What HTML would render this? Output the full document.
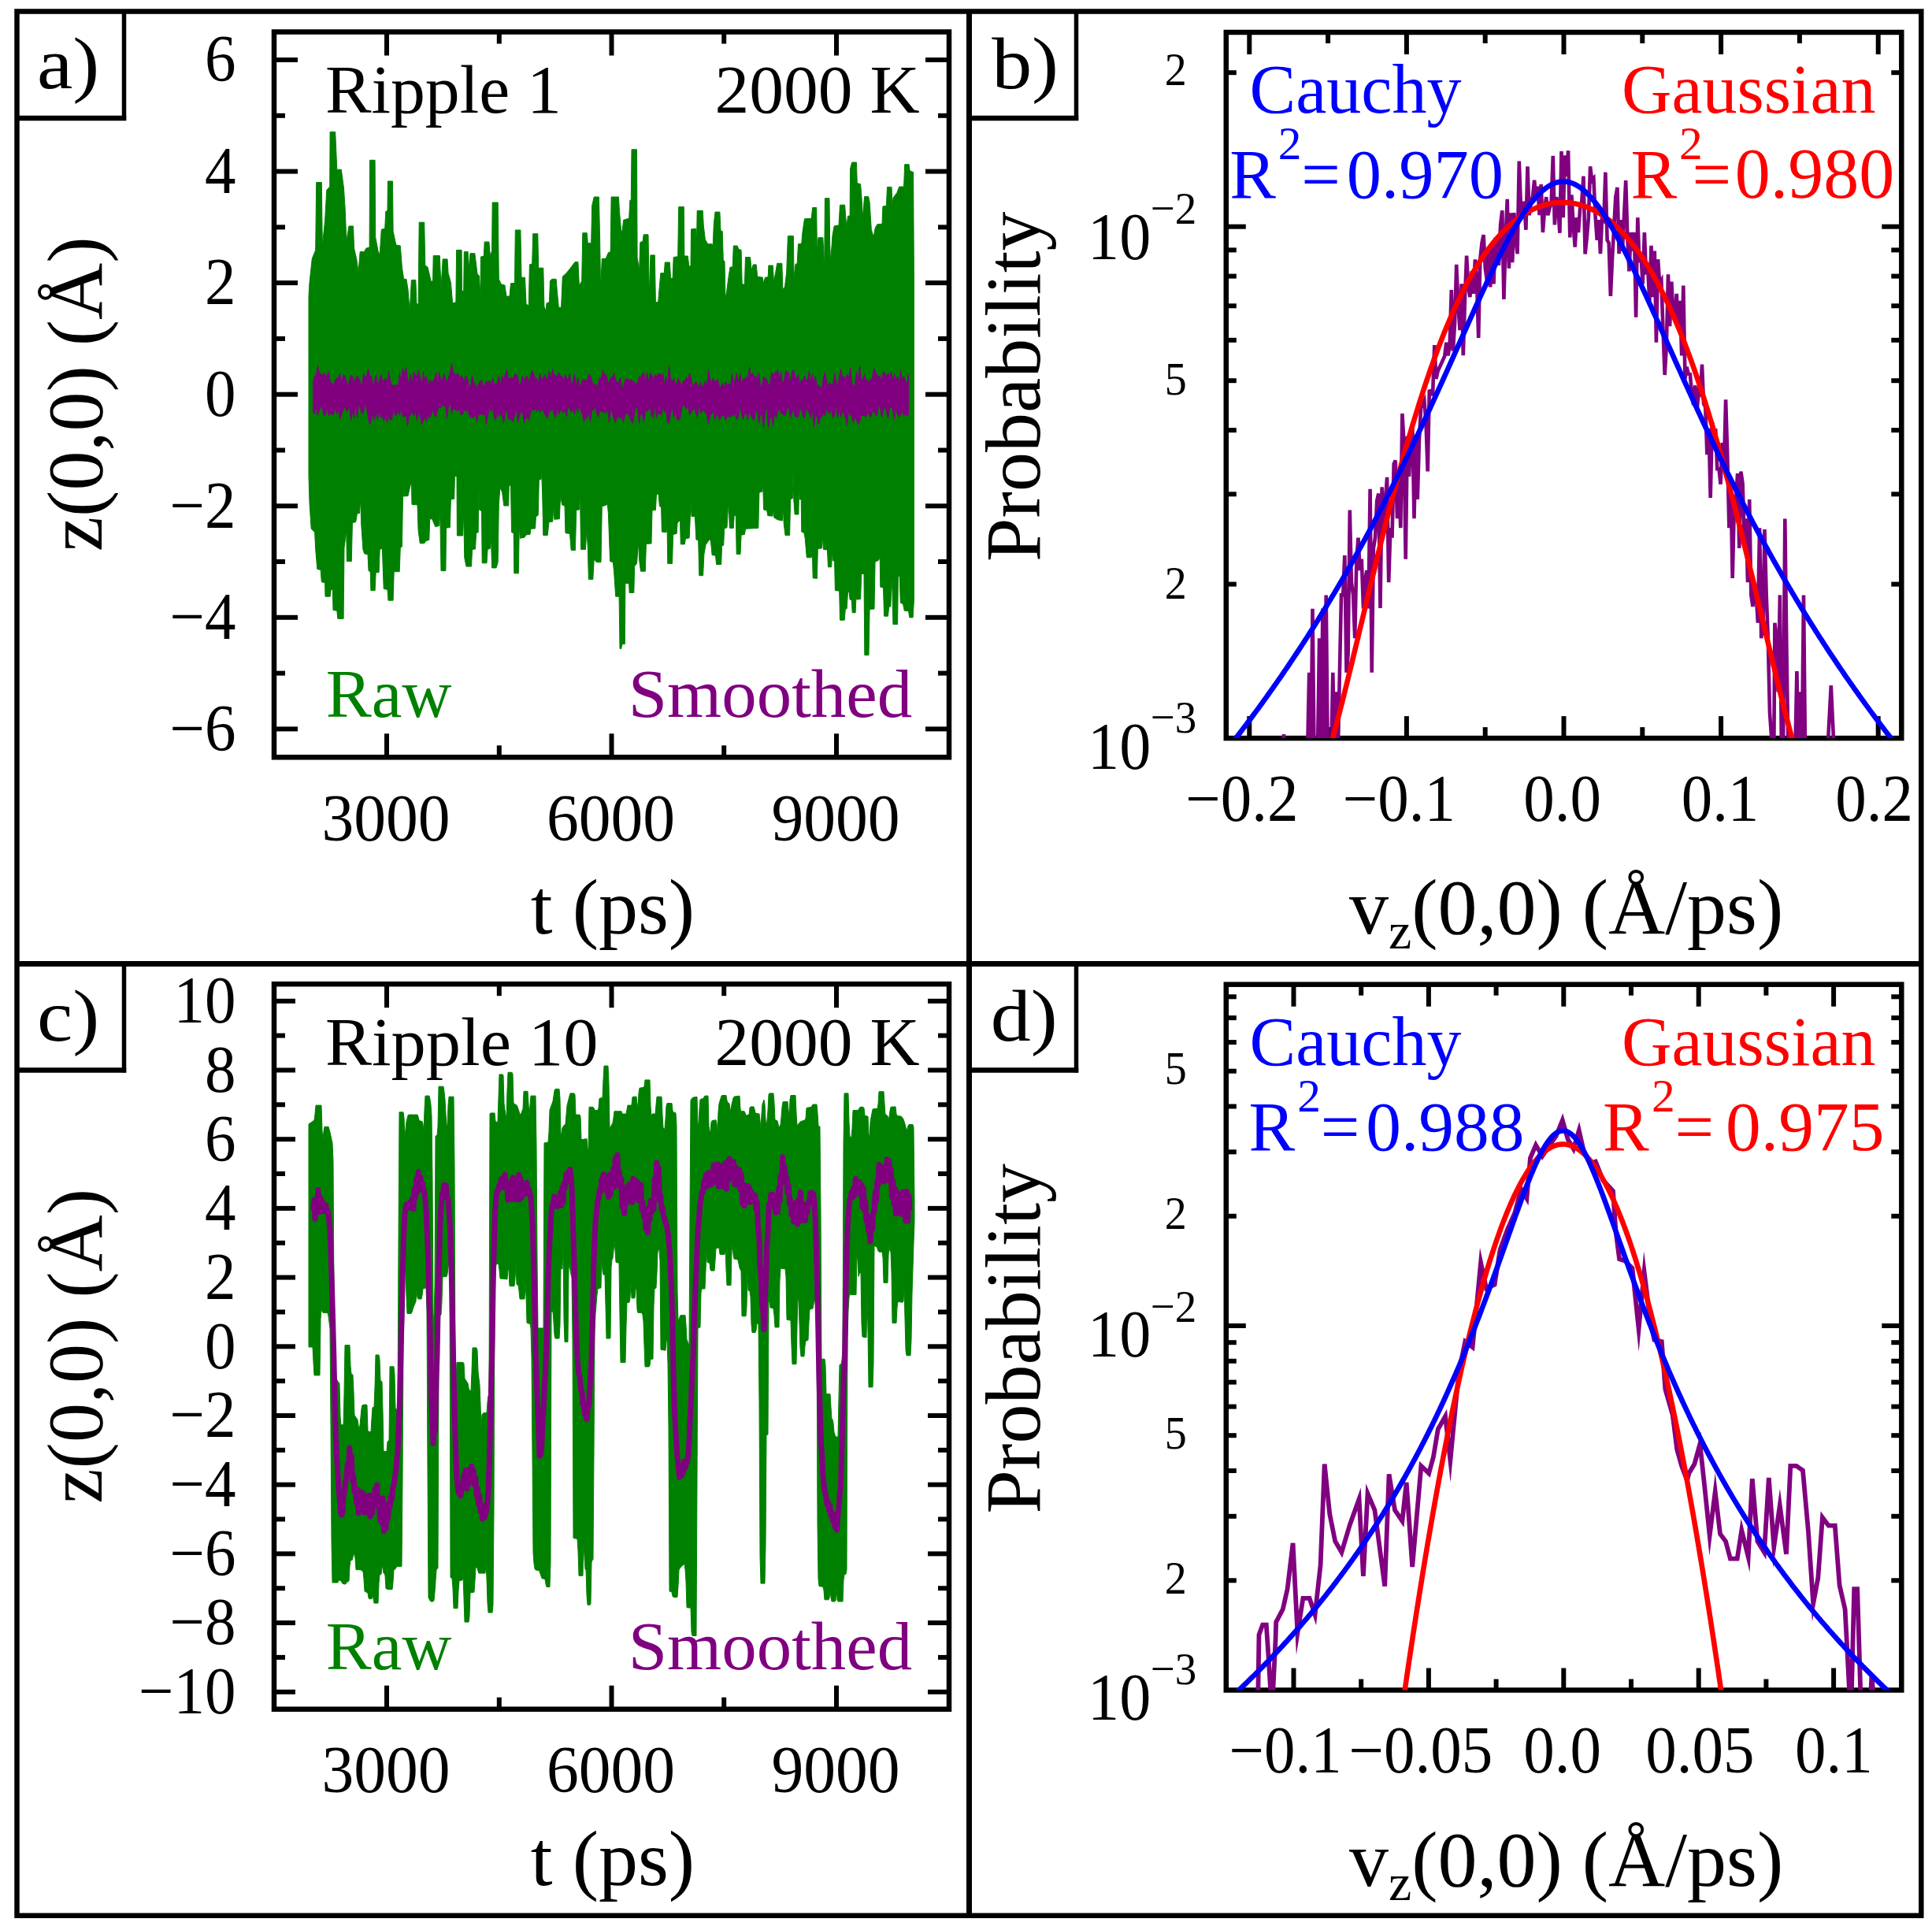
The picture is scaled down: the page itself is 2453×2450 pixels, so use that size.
<!DOCTYPE html><html><head><meta charset="utf-8"><title>Ripple figure</title>
<style>html,body{margin:0;padding:0;background:#fff}svg{display:block}text{font-family:"Liberation Serif",serif}</style></head><body>
<svg width="2453" height="2450" viewBox="0 0 2453 2450">
<rect width="2453" height="2450" fill="#fff"/>
<defs>
<clipPath id="ca"><rect x="348" y="40.5" width="857" height="920.8"/></clipPath>
<clipPath id="cb"><rect x="1556.8" y="41" width="857.5000000000002" height="896.1"/></clipPath>
<clipPath id="cc"><rect x="348" y="1249.2" width="857" height="920.4999999999998"/></clipPath>
<clipPath id="cd"><rect x="1556.8" y="1249.7" width="857.5000000000002" height="895.8"/></clipPath>
</defs>
<rect x="21.5" y="14.5" width="2417.8" height="2417.2" fill="none" stroke="#000" stroke-width="6.5"/>
<line x1="1230.5" y1="14.5" x2="1230.5" y2="2431.7" stroke="#000" stroke-width="7"/>
<line x1="21.5" y1="1223.5" x2="2439.3" y2="1223.5" stroke="#000" stroke-width="7"/>
<line x1="157.5" y1="14.5" x2="157.5" y2="153.0" stroke="#000" stroke-width="5.5"/>
<line x1="21.5" y1="150.0" x2="160.2" y2="150.0" stroke="#000" stroke-width="6.5"/>
<line x1="1366.5" y1="14.5" x2="1366.5" y2="153.0" stroke="#000" stroke-width="5.5"/>
<line x1="1230.5" y1="150.0" x2="1369.2" y2="150.0" stroke="#000" stroke-width="6.5"/>
<line x1="157.5" y1="1223.5" x2="157.5" y2="1361.5" stroke="#000" stroke-width="5.5"/>
<line x1="21.5" y1="1358.5" x2="160.2" y2="1358.5" stroke="#000" stroke-width="6.5"/>
<line x1="1366.5" y1="1223.5" x2="1366.5" y2="1361.5" stroke="#000" stroke-width="5.5"/>
<line x1="1230.5" y1="1358.5" x2="1369.2" y2="1358.5" stroke="#000" stroke-width="6.5"/>
<line x1="348.0" y1="925.4" x2="378.0" y2="925.4" stroke="#000" stroke-width="6"/>
<line x1="1175.0" y1="925.4" x2="1205.0" y2="925.4" stroke="#000" stroke-width="6"/>
<line x1="348.0" y1="783.8" x2="378.0" y2="783.8" stroke="#000" stroke-width="6"/>
<line x1="1175.0" y1="783.8" x2="1205.0" y2="783.8" stroke="#000" stroke-width="6"/>
<line x1="348.0" y1="642.3" x2="378.0" y2="642.3" stroke="#000" stroke-width="6"/>
<line x1="1175.0" y1="642.3" x2="1205.0" y2="642.3" stroke="#000" stroke-width="6"/>
<line x1="348.0" y1="500.7" x2="378.0" y2="500.7" stroke="#000" stroke-width="6"/>
<line x1="1175.0" y1="500.7" x2="1205.0" y2="500.7" stroke="#000" stroke-width="6"/>
<line x1="348.0" y1="359.1" x2="378.0" y2="359.1" stroke="#000" stroke-width="6"/>
<line x1="1175.0" y1="359.1" x2="1205.0" y2="359.1" stroke="#000" stroke-width="6"/>
<line x1="348.0" y1="217.6" x2="378.0" y2="217.6" stroke="#000" stroke-width="6"/>
<line x1="1175.0" y1="217.6" x2="1205.0" y2="217.6" stroke="#000" stroke-width="6"/>
<line x1="348.0" y1="76.0" x2="378.0" y2="76.0" stroke="#000" stroke-width="6"/>
<line x1="1175.0" y1="76.0" x2="1205.0" y2="76.0" stroke="#000" stroke-width="6"/>
<line x1="348.0" y1="854.6" x2="362.0" y2="854.6" stroke="#000" stroke-width="6"/>
<line x1="1191.0" y1="854.6" x2="1205.0" y2="854.6" stroke="#000" stroke-width="6"/>
<line x1="348.0" y1="713.0" x2="362.0" y2="713.0" stroke="#000" stroke-width="6"/>
<line x1="1191.0" y1="713.0" x2="1205.0" y2="713.0" stroke="#000" stroke-width="6"/>
<line x1="348.0" y1="571.5" x2="362.0" y2="571.5" stroke="#000" stroke-width="6"/>
<line x1="1191.0" y1="571.5" x2="1205.0" y2="571.5" stroke="#000" stroke-width="6"/>
<line x1="348.0" y1="429.9" x2="362.0" y2="429.9" stroke="#000" stroke-width="6"/>
<line x1="1191.0" y1="429.9" x2="1205.0" y2="429.9" stroke="#000" stroke-width="6"/>
<line x1="348.0" y1="288.4" x2="362.0" y2="288.4" stroke="#000" stroke-width="6"/>
<line x1="1191.0" y1="288.4" x2="1205.0" y2="288.4" stroke="#000" stroke-width="6"/>
<line x1="348.0" y1="146.8" x2="362.0" y2="146.8" stroke="#000" stroke-width="6"/>
<line x1="1191.0" y1="146.8" x2="1205.0" y2="146.8" stroke="#000" stroke-width="6"/>
<line x1="491.0" y1="40.5" x2="491.0" y2="70.5" stroke="#000" stroke-width="6"/>
<line x1="491.0" y1="931.3" x2="491.0" y2="961.3" stroke="#000" stroke-width="6"/>
<line x1="776.5" y1="40.5" x2="776.5" y2="70.5" stroke="#000" stroke-width="6"/>
<line x1="776.5" y1="931.3" x2="776.5" y2="961.3" stroke="#000" stroke-width="6"/>
<line x1="1062.0" y1="40.5" x2="1062.0" y2="70.5" stroke="#000" stroke-width="6"/>
<line x1="1062.0" y1="931.3" x2="1062.0" y2="961.3" stroke="#000" stroke-width="6"/>
<line x1="633.8" y1="40.5" x2="633.8" y2="55.5" stroke="#000" stroke-width="6"/>
<line x1="633.8" y1="946.3" x2="633.8" y2="961.3" stroke="#000" stroke-width="6"/>
<line x1="919.2" y1="40.5" x2="919.2" y2="55.5" stroke="#000" stroke-width="6"/>
<line x1="919.2" y1="946.3" x2="919.2" y2="961.3" stroke="#000" stroke-width="6"/>
<rect x="348.0" y="40.5" width="857.0" height="920.8" fill="none" stroke="#000" stroke-width="6.5"/>
<line x1="348.0" y1="2147.8" x2="375.0" y2="2147.8" stroke="#000" stroke-width="6"/>
<line x1="1178.0" y1="2147.8" x2="1205.0" y2="2147.8" stroke="#000" stroke-width="6"/>
<line x1="348.0" y1="2060.1" x2="375.0" y2="2060.1" stroke="#000" stroke-width="6"/>
<line x1="1178.0" y1="2060.1" x2="1205.0" y2="2060.1" stroke="#000" stroke-width="6"/>
<line x1="348.0" y1="1972.4" x2="375.0" y2="1972.4" stroke="#000" stroke-width="6"/>
<line x1="1178.0" y1="1972.4" x2="1205.0" y2="1972.4" stroke="#000" stroke-width="6"/>
<line x1="348.0" y1="1884.7" x2="375.0" y2="1884.7" stroke="#000" stroke-width="6"/>
<line x1="1178.0" y1="1884.7" x2="1205.0" y2="1884.7" stroke="#000" stroke-width="6"/>
<line x1="348.0" y1="1797.0" x2="375.0" y2="1797.0" stroke="#000" stroke-width="6"/>
<line x1="1178.0" y1="1797.0" x2="1205.0" y2="1797.0" stroke="#000" stroke-width="6"/>
<line x1="348.0" y1="1709.3" x2="375.0" y2="1709.3" stroke="#000" stroke-width="6"/>
<line x1="1178.0" y1="1709.3" x2="1205.0" y2="1709.3" stroke="#000" stroke-width="6"/>
<line x1="348.0" y1="1621.6" x2="375.0" y2="1621.6" stroke="#000" stroke-width="6"/>
<line x1="1178.0" y1="1621.6" x2="1205.0" y2="1621.6" stroke="#000" stroke-width="6"/>
<line x1="348.0" y1="1533.9" x2="375.0" y2="1533.9" stroke="#000" stroke-width="6"/>
<line x1="1178.0" y1="1533.9" x2="1205.0" y2="1533.9" stroke="#000" stroke-width="6"/>
<line x1="348.0" y1="1446.2" x2="375.0" y2="1446.2" stroke="#000" stroke-width="6"/>
<line x1="1178.0" y1="1446.2" x2="1205.0" y2="1446.2" stroke="#000" stroke-width="6"/>
<line x1="348.0" y1="1358.5" x2="375.0" y2="1358.5" stroke="#000" stroke-width="6"/>
<line x1="1178.0" y1="1358.5" x2="1205.0" y2="1358.5" stroke="#000" stroke-width="6"/>
<line x1="348.0" y1="1270.8" x2="375.0" y2="1270.8" stroke="#000" stroke-width="6"/>
<line x1="1178.0" y1="1270.8" x2="1205.0" y2="1270.8" stroke="#000" stroke-width="6"/>
<line x1="348.0" y1="2103.9" x2="362.0" y2="2103.9" stroke="#000" stroke-width="6"/>
<line x1="1191.0" y1="2103.9" x2="1205.0" y2="2103.9" stroke="#000" stroke-width="6"/>
<line x1="348.0" y1="2016.2" x2="362.0" y2="2016.2" stroke="#000" stroke-width="6"/>
<line x1="1191.0" y1="2016.2" x2="1205.0" y2="2016.2" stroke="#000" stroke-width="6"/>
<line x1="348.0" y1="1928.5" x2="362.0" y2="1928.5" stroke="#000" stroke-width="6"/>
<line x1="1191.0" y1="1928.5" x2="1205.0" y2="1928.5" stroke="#000" stroke-width="6"/>
<line x1="348.0" y1="1840.8" x2="362.0" y2="1840.8" stroke="#000" stroke-width="6"/>
<line x1="1191.0" y1="1840.8" x2="1205.0" y2="1840.8" stroke="#000" stroke-width="6"/>
<line x1="348.0" y1="1753.1" x2="362.0" y2="1753.1" stroke="#000" stroke-width="6"/>
<line x1="1191.0" y1="1753.1" x2="1205.0" y2="1753.1" stroke="#000" stroke-width="6"/>
<line x1="348.0" y1="1665.5" x2="362.0" y2="1665.5" stroke="#000" stroke-width="6"/>
<line x1="1191.0" y1="1665.5" x2="1205.0" y2="1665.5" stroke="#000" stroke-width="6"/>
<line x1="348.0" y1="1577.8" x2="362.0" y2="1577.8" stroke="#000" stroke-width="6"/>
<line x1="1191.0" y1="1577.8" x2="1205.0" y2="1577.8" stroke="#000" stroke-width="6"/>
<line x1="348.0" y1="1490.0" x2="362.0" y2="1490.0" stroke="#000" stroke-width="6"/>
<line x1="1191.0" y1="1490.0" x2="1205.0" y2="1490.0" stroke="#000" stroke-width="6"/>
<line x1="348.0" y1="1402.3" x2="362.0" y2="1402.3" stroke="#000" stroke-width="6"/>
<line x1="1191.0" y1="1402.3" x2="1205.0" y2="1402.3" stroke="#000" stroke-width="6"/>
<line x1="348.0" y1="1314.6" x2="362.0" y2="1314.6" stroke="#000" stroke-width="6"/>
<line x1="1191.0" y1="1314.6" x2="1205.0" y2="1314.6" stroke="#000" stroke-width="6"/>
<line x1="491.0" y1="1249.2" x2="491.0" y2="1279.2" stroke="#000" stroke-width="6"/>
<line x1="491.0" y1="2139.7" x2="491.0" y2="2169.7" stroke="#000" stroke-width="6"/>
<line x1="776.5" y1="1249.2" x2="776.5" y2="1279.2" stroke="#000" stroke-width="6"/>
<line x1="776.5" y1="2139.7" x2="776.5" y2="2169.7" stroke="#000" stroke-width="6"/>
<line x1="1062.0" y1="1249.2" x2="1062.0" y2="1279.2" stroke="#000" stroke-width="6"/>
<line x1="1062.0" y1="2139.7" x2="1062.0" y2="2169.7" stroke="#000" stroke-width="6"/>
<line x1="633.8" y1="1249.2" x2="633.8" y2="1264.2" stroke="#000" stroke-width="6"/>
<line x1="633.8" y1="2154.7" x2="633.8" y2="2169.7" stroke="#000" stroke-width="6"/>
<line x1="919.2" y1="1249.2" x2="919.2" y2="1264.2" stroke="#000" stroke-width="6"/>
<line x1="919.2" y1="2154.7" x2="919.2" y2="2169.7" stroke="#000" stroke-width="6"/>
<rect x="348.0" y="1249.2" width="857.0" height="920.5" fill="none" stroke="#000" stroke-width="6.5"/>
<line x1="1556.8" y1="287.7" x2="1581.8" y2="287.7" stroke="#000" stroke-width="6"/>
<line x1="2389.3" y1="287.7" x2="2414.3" y2="287.7" stroke="#000" stroke-width="6"/>
<line x1="1556.8" y1="741.6" x2="1569.8" y2="741.6" stroke="#000" stroke-width="6"/>
<line x1="2401.3" y1="741.6" x2="2414.3" y2="741.6" stroke="#000" stroke-width="6"/>
<line x1="1556.8" y1="627.3" x2="1569.8" y2="627.3" stroke="#000" stroke-width="6"/>
<line x1="2401.3" y1="627.3" x2="2414.3" y2="627.3" stroke="#000" stroke-width="6"/>
<line x1="1556.8" y1="546.1" x2="1569.8" y2="546.1" stroke="#000" stroke-width="6"/>
<line x1="2401.3" y1="546.1" x2="2414.3" y2="546.1" stroke="#000" stroke-width="6"/>
<line x1="1556.8" y1="483.2" x2="1569.8" y2="483.2" stroke="#000" stroke-width="6"/>
<line x1="2401.3" y1="483.2" x2="2414.3" y2="483.2" stroke="#000" stroke-width="6"/>
<line x1="1556.8" y1="431.8" x2="1569.8" y2="431.8" stroke="#000" stroke-width="6"/>
<line x1="2401.3" y1="431.8" x2="2414.3" y2="431.8" stroke="#000" stroke-width="6"/>
<line x1="1556.8" y1="388.3" x2="1569.8" y2="388.3" stroke="#000" stroke-width="6"/>
<line x1="2401.3" y1="388.3" x2="2414.3" y2="388.3" stroke="#000" stroke-width="6"/>
<line x1="1556.8" y1="350.6" x2="1569.8" y2="350.6" stroke="#000" stroke-width="6"/>
<line x1="2401.3" y1="350.6" x2="2414.3" y2="350.6" stroke="#000" stroke-width="6"/>
<line x1="1556.8" y1="317.4" x2="1569.8" y2="317.4" stroke="#000" stroke-width="6"/>
<line x1="2401.3" y1="317.4" x2="2414.3" y2="317.4" stroke="#000" stroke-width="6"/>
<line x1="1556.8" y1="92.2" x2="1569.8" y2="92.2" stroke="#000" stroke-width="6"/>
<line x1="2401.3" y1="92.2" x2="2414.3" y2="92.2" stroke="#000" stroke-width="6"/>
<line x1="1586.3" y1="41.0" x2="1586.3" y2="69.0" stroke="#000" stroke-width="6"/>
<line x1="1586.3" y1="909.1" x2="1586.3" y2="937.1" stroke="#000" stroke-width="6"/>
<line x1="1785.9" y1="41.0" x2="1785.9" y2="69.0" stroke="#000" stroke-width="6"/>
<line x1="1785.9" y1="909.1" x2="1785.9" y2="937.1" stroke="#000" stroke-width="6"/>
<line x1="1985.5" y1="41.0" x2="1985.5" y2="69.0" stroke="#000" stroke-width="6"/>
<line x1="1985.5" y1="909.1" x2="1985.5" y2="937.1" stroke="#000" stroke-width="6"/>
<line x1="2185.1" y1="41.0" x2="2185.1" y2="69.0" stroke="#000" stroke-width="6"/>
<line x1="2185.1" y1="909.1" x2="2185.1" y2="937.1" stroke="#000" stroke-width="6"/>
<line x1="2384.7" y1="41.0" x2="2384.7" y2="69.0" stroke="#000" stroke-width="6"/>
<line x1="2384.7" y1="909.1" x2="2384.7" y2="937.1" stroke="#000" stroke-width="6"/>
<line x1="1686.1" y1="41.0" x2="1686.1" y2="55.0" stroke="#000" stroke-width="6"/>
<line x1="1686.1" y1="923.1" x2="1686.1" y2="937.1" stroke="#000" stroke-width="6"/>
<line x1="1885.7" y1="41.0" x2="1885.7" y2="55.0" stroke="#000" stroke-width="6"/>
<line x1="1885.7" y1="923.1" x2="1885.7" y2="937.1" stroke="#000" stroke-width="6"/>
<line x1="2085.3" y1="41.0" x2="2085.3" y2="55.0" stroke="#000" stroke-width="6"/>
<line x1="2085.3" y1="923.1" x2="2085.3" y2="937.1" stroke="#000" stroke-width="6"/>
<line x1="2284.9" y1="41.0" x2="2284.9" y2="55.0" stroke="#000" stroke-width="6"/>
<line x1="2284.9" y1="923.1" x2="2284.9" y2="937.1" stroke="#000" stroke-width="6"/>
<rect x="1556.8" y="41.0" width="857.5" height="896.1" fill="none" stroke="#000" stroke-width="6.5"/>
<line x1="1556.8" y1="1683.0" x2="1581.8" y2="1683.0" stroke="#000" stroke-width="6"/>
<line x1="2389.3" y1="1683.0" x2="2414.3" y2="1683.0" stroke="#000" stroke-width="6"/>
<line x1="1556.8" y1="2006.3" x2="1569.8" y2="2006.3" stroke="#000" stroke-width="6"/>
<line x1="2401.3" y1="2006.3" x2="2414.3" y2="2006.3" stroke="#000" stroke-width="6"/>
<line x1="1556.8" y1="1924.8" x2="1569.8" y2="1924.8" stroke="#000" stroke-width="6"/>
<line x1="2401.3" y1="1924.8" x2="2414.3" y2="1924.8" stroke="#000" stroke-width="6"/>
<line x1="1556.8" y1="1867.0" x2="1569.8" y2="1867.0" stroke="#000" stroke-width="6"/>
<line x1="2401.3" y1="1867.0" x2="2414.3" y2="1867.0" stroke="#000" stroke-width="6"/>
<line x1="1556.8" y1="1822.2" x2="1569.8" y2="1822.2" stroke="#000" stroke-width="6"/>
<line x1="2401.3" y1="1822.2" x2="2414.3" y2="1822.2" stroke="#000" stroke-width="6"/>
<line x1="1556.8" y1="1785.6" x2="1569.8" y2="1785.6" stroke="#000" stroke-width="6"/>
<line x1="2401.3" y1="1785.6" x2="2414.3" y2="1785.6" stroke="#000" stroke-width="6"/>
<line x1="1556.8" y1="1754.6" x2="1569.8" y2="1754.6" stroke="#000" stroke-width="6"/>
<line x1="2401.3" y1="1754.6" x2="2414.3" y2="1754.6" stroke="#000" stroke-width="6"/>
<line x1="1556.8" y1="1727.8" x2="1569.8" y2="1727.8" stroke="#000" stroke-width="6"/>
<line x1="2401.3" y1="1727.8" x2="2414.3" y2="1727.8" stroke="#000" stroke-width="6"/>
<line x1="1556.8" y1="1704.2" x2="1569.8" y2="1704.2" stroke="#000" stroke-width="6"/>
<line x1="2401.3" y1="1704.2" x2="2414.3" y2="1704.2" stroke="#000" stroke-width="6"/>
<line x1="1556.8" y1="1543.8" x2="1569.8" y2="1543.8" stroke="#000" stroke-width="6"/>
<line x1="2401.3" y1="1543.8" x2="2414.3" y2="1543.8" stroke="#000" stroke-width="6"/>
<line x1="1556.8" y1="1462.3" x2="1569.8" y2="1462.3" stroke="#000" stroke-width="6"/>
<line x1="2401.3" y1="1462.3" x2="2414.3" y2="1462.3" stroke="#000" stroke-width="6"/>
<line x1="1556.8" y1="1404.5" x2="1569.8" y2="1404.5" stroke="#000" stroke-width="6"/>
<line x1="2401.3" y1="1404.5" x2="2414.3" y2="1404.5" stroke="#000" stroke-width="6"/>
<line x1="1556.8" y1="1359.7" x2="1569.8" y2="1359.7" stroke="#000" stroke-width="6"/>
<line x1="2401.3" y1="1359.7" x2="2414.3" y2="1359.7" stroke="#000" stroke-width="6"/>
<line x1="1556.8" y1="1323.1" x2="1569.8" y2="1323.1" stroke="#000" stroke-width="6"/>
<line x1="2401.3" y1="1323.1" x2="2414.3" y2="1323.1" stroke="#000" stroke-width="6"/>
<line x1="1556.8" y1="1292.1" x2="1569.8" y2="1292.1" stroke="#000" stroke-width="6"/>
<line x1="2401.3" y1="1292.1" x2="2414.3" y2="1292.1" stroke="#000" stroke-width="6"/>
<line x1="1556.8" y1="1265.3" x2="1569.8" y2="1265.3" stroke="#000" stroke-width="6"/>
<line x1="2401.3" y1="1265.3" x2="2414.3" y2="1265.3" stroke="#000" stroke-width="6"/>
<line x1="1642.5" y1="1249.7" x2="1642.5" y2="1277.7" stroke="#000" stroke-width="6"/>
<line x1="1642.5" y1="2117.5" x2="1642.5" y2="2145.5" stroke="#000" stroke-width="6"/>
<line x1="1813.9" y1="1249.7" x2="1813.9" y2="1277.7" stroke="#000" stroke-width="6"/>
<line x1="1813.9" y1="2117.5" x2="1813.9" y2="2145.5" stroke="#000" stroke-width="6"/>
<line x1="1985.3" y1="1249.7" x2="1985.3" y2="1277.7" stroke="#000" stroke-width="6"/>
<line x1="1985.3" y1="2117.5" x2="1985.3" y2="2145.5" stroke="#000" stroke-width="6"/>
<line x1="2156.7" y1="1249.7" x2="2156.7" y2="1277.7" stroke="#000" stroke-width="6"/>
<line x1="2156.7" y1="2117.5" x2="2156.7" y2="2145.5" stroke="#000" stroke-width="6"/>
<line x1="2328.1" y1="1249.7" x2="2328.1" y2="1277.7" stroke="#000" stroke-width="6"/>
<line x1="2328.1" y1="2117.5" x2="2328.1" y2="2145.5" stroke="#000" stroke-width="6"/>
<line x1="1728.2" y1="1249.7" x2="1728.2" y2="1263.7" stroke="#000" stroke-width="6"/>
<line x1="1728.2" y1="2131.5" x2="1728.2" y2="2145.5" stroke="#000" stroke-width="6"/>
<line x1="1899.6" y1="1249.7" x2="1899.6" y2="1263.7" stroke="#000" stroke-width="6"/>
<line x1="1899.6" y1="2131.5" x2="1899.6" y2="2145.5" stroke="#000" stroke-width="6"/>
<line x1="2071.0" y1="1249.7" x2="2071.0" y2="1263.7" stroke="#000" stroke-width="6"/>
<line x1="2071.0" y1="2131.5" x2="2071.0" y2="2145.5" stroke="#000" stroke-width="6"/>
<line x1="2242.4" y1="1249.7" x2="2242.4" y2="1263.7" stroke="#000" stroke-width="6"/>
<line x1="2242.4" y1="2131.5" x2="2242.4" y2="2145.5" stroke="#000" stroke-width="6"/>
<rect x="1556.8" y="1249.7" width="857.5" height="895.8" fill="none" stroke="#000" stroke-width="6.5"/>
<path d="M392.0,376.1 L393.0,358.7 L396.3,328.3 L400.7,317.4 L401.7,231.5 L408.3,231.5 L409.3,312.0 L412.6,280.4 L414.8,241.3 L418.7,237.0 L419.1,167.4 L425.7,167.4 L427.8,215.2 L433.3,215.2 L436.5,239.1 L438.3,267.4 L439.8,306.5 L443.0,287.0 L448.5,287.0 L449.6,315.2 L452.8,329.3 L455.0,345.7 L457.2,319.6 L462.6,319.6 L464.8,315.2 L469.1,314.1 L469.6,203.3 L476.1,203.3 L476.7,301.1 L480.0,318.5 L482.2,323.9 L484.3,291.3 L488.7,290.2 L489.8,268.5 L492.0,267.4 L492.4,230.0 L498.5,230.0 L499.1,293.5 L502.8,310.9 L508.3,312.0 L510.4,339.1 L512.6,354.3 L515.9,354.3 L518.0,367.4 L520.2,395.7 L522.4,355.4 L527.8,355.4 L528.9,384.8 L531.1,387.0 L532.2,282.2 L538.7,282.2 L539.8,337.0 L543.0,339.1 L547.4,357.6 L549.6,356.5 L550.2,324.6 L558.3,324.6 L560.0,366.3 L562.2,328.9 L568.0,328.9 L569.1,346.7 L572.4,358.7 L574.6,384.8 L578.9,383.7 L579.6,317.4 L586.1,317.4 L586.5,369.6 L588.7,369.6 L589.3,319.6 L594.1,319.6 L595.2,341.3 L597.0,321.7 L602.8,321.7 L606.1,347.8 L608.3,350.0 L610.0,375.0 L610.4,326.1 L614.3,325.0 L615.2,307.0 L620.9,307.0 L622.4,325.0 L624.6,318.5 L625.2,257.0 L632.2,257.0 L633.3,354.3 L636.5,360.9 L640.9,362.0 L643.0,376.1 L647.0,376.1 L648.5,359.8 L653.5,359.3 L654.3,292.0 L660.9,292.0 L662.0,352.2 L666.5,352.2 L668.0,385.9 L671.3,388.0 L672.4,335.9 L675.7,334.8 L676.7,296.7 L682.8,296.7 L683.7,340.2 L689.8,340.2 L690.9,389.1 L693.0,394.6 L694.1,384.8 L697.4,383.7 L698.5,356.5 L700.7,354.3 L706.1,354.3 L707.2,367.4 L709.3,390.2 L712.6,390.2 L714.3,351.1 L719.1,346.7 L723.5,341.3 L730.0,332.6 L733.9,332.6 L735.4,363.0 L738.7,356.5 L739.8,295.7 L745.2,295.7 L746.3,308.7 L750.7,308.7 L751.7,260.9 L754.3,250.0 L760.4,250.0 L761.5,297.8 L762.6,367.4 L764.3,328.3 L769.1,328.3 L772.4,320.7 L775.2,319.6 L776.1,250.0 L785.4,250.0 L786.5,268.5 L788.7,293.5 L790.0,293.5 L791.7,279.3 L798.7,277.2 L799.8,254.3 L801.3,253.9 L802.0,189.8 L808.5,189.8 L809.1,327.2 L811.7,342.4 L812.8,307.6 L816.1,306.5 L817.2,297.8 L823.0,297.8 L824.3,376.1 L825.9,323.9 L831.3,323.9 L832.4,383.7 L835.7,383.7 L836.7,370.7 L838.9,346.7 L843.3,346.7 L844.3,333.0 L850.4,333.0 L851.5,353.3 L854.1,353.3 L855.2,326.5 L860.7,325.7 L861.7,262.6 L868.3,262.6 L868.9,325.0 L873.3,325.0 L874.8,338.0 L877.0,338.0 L877.6,290.9 L883.5,290.2 L884.6,303.3 L885.2,267.4 L892.2,267.4 L893.3,287.0 L895.4,304.3 L898.7,309.8 L904.1,309.8 L905.2,313.0 L906.3,284.8 L908.0,269.1 L913.9,269.1 L915.0,293.0 L917.2,293.5 L918.3,330.4 L920.0,331.5 L920.9,378.3 L922.6,370.7 L924.8,353.3 L927.0,339.1 L930.2,339.1 L931.3,312.0 L936.1,312.0 L937.8,316.3 L941.1,317.4 L942.2,360.9 L945.4,360.9 L946.5,326.5 L952.6,326.5 L954.1,343.0 L956.3,335.9 L960.2,335.9 L961.7,351.1 L968.3,352.2 L969.3,359.8 L971.5,352.2 L975.2,351.7 L975.9,337.0 L981.3,337.0 L982.4,357.6 L984.6,346.7 L986.7,334.3 L992.8,334.3 L993.9,367.4 L996.5,364.1 L998.7,345.7 L1000.4,299.6 L1007.4,299.6 L1008.0,353.3 L1010.0,335.2 L1012.2,334.8 L1013.5,309.8 L1017.8,309.1 L1018.9,295.2 L1021.5,277.8 L1030.2,277.2 L1031.7,263.5 L1036.7,263.5 L1037.4,320.7 L1038.9,301.7 L1044.8,301.7 L1045.7,317.4 L1046.7,343.5 L1047.4,251.7 L1053.0,251.7 L1053.7,312.0 L1054.6,332.6 L1057.0,298.9 L1059.1,287.0 L1065.0,285.9 L1066.5,260.2 L1072.6,260.2 L1073.7,273.9 L1074.8,289.1 L1076.5,274.3 L1079.1,273.9 L1079.6,214.1 L1081.7,206.1 L1087.4,206.1 L1088.3,232.6 L1092.6,233.7 L1093.9,249.6 L1095.4,276.1 L1097.6,249.6 L1102.6,249.6 L1104.1,256.5 L1106.3,291.3 L1109.1,301.1 L1111.3,289.1 L1113.9,284.8 L1120.0,284.3 L1120.9,262.0 L1125.4,261.3 L1126.5,237.4 L1132.0,237.4 L1133.0,260.9 L1134.1,251.1 L1138.9,244.6 L1141.7,237.0 L1147.6,237.0 L1148.7,208.7 L1154.1,208.7 L1155.2,217.0 L1159.6,218.5 L1160.4,354.3 L1160.4,762.2 L1159.1,783.9 L1154.8,783.9 L1153.5,775.7 L1148.3,775.2 L1146.5,766.5 L1143.3,765.4 L1142.2,731.3 L1140.4,731.7 L1139.6,792.6 L1133.9,792.6 L1133.0,751.3 L1132.0,736.1 L1130.9,769.8 L1128.7,770.4 L1127.4,782.2 L1122.6,782.2 L1121.5,745.9 L1117.8,745.2 L1117.2,706.1 L1115.7,711.1 L1111.1,713.3 L1110.0,773.0 L1104.1,773.5 L1103.0,831.7 L1097.8,831.7 L1097.0,728.5 L1093.7,728.5 L1092.6,760.4 L1087.8,761.1 L1087.0,756.7 L1086.1,777.8 L1082.2,777.8 L1081.3,761.7 L1079.1,761.1 L1078.0,751.3 L1076.5,751.3 L1075.2,772.6 L1073.3,773.5 L1072.2,787.2 L1066.5,787.2 L1065.7,750.2 L1060.4,749.6 L1059.6,712.2 L1057.4,711.7 L1056.5,699.1 L1055.7,719.8 L1051.5,719.8 L1050.4,698.0 L1045.4,697.4 L1044.3,680.7 L1043.3,695.9 L1038.3,696.5 L1037.4,734.3 L1032.2,733.9 L1031.3,695.9 L1030.2,707.8 L1024.3,707.8 L1022.2,683.5 L1020.9,676.3 L1017.8,675.2 L1017.2,633.9 L1015.4,633.9 L1014.6,616.5 L1013.9,653.0 L1009.1,653.0 L1007.8,633.9 L1007.0,596.5 L1006.3,632.8 L1003.7,633.5 L1002.6,679.6 L997.0,679.6 L995.2,664.3 L994.3,643.7 L993.3,661.1 L986.7,659.6 L982.6,656.7 L981.7,645.9 L980.9,655.2 L974.8,654.6 L973.7,648.0 L969.6,647.0 L968.7,614.3 L967.8,624.1 L963.9,625.2 L962.8,670.4 L946.5,671.3 L945.4,678.5 L941.1,679.1 L940.0,703.5 L935.2,703.5 L934.3,654.6 L932.2,653.9 L931.3,670.4 L926.3,670.4 L925.7,653.5 L924.8,636.1 L923.9,653.9 L923.0,669.8 L919.6,670.9 L918.7,692.2 L916.5,693.0 L915.7,716.5 L909.6,716.5 L908.5,705.2 L904.1,704.6 L902.6,688.3 L901.3,683.9 L896.1,691.5 L893.9,703.5 L892.6,730.7 L887.8,730.7 L886.7,686.1 L883.9,685.0 L882.4,655.7 L878.0,655.7 L877.0,635.0 L876.3,656.7 L875.2,682.8 L870.4,683.9 L869.3,690.9 L864.3,690.9 L863.5,662.2 L862.2,661.1 L860.0,664.3 L859.1,677.4 L854.6,678.5 L853.5,715.4 L847.8,715.4 L847.0,666.1 L846.1,675.7 L840.4,675.2 L839.6,643.7 L837.4,642.6 L836.1,627.4 L833.5,627.0 L832.4,647.4 L828.0,648.0 L827.0,690.0 L820.4,690.4 L819.3,725.2 L813.5,725.2 L811.7,711.1 L810.7,688.3 L808.5,715.4 L805.7,718.7 L804.8,752.4 L799.1,752.4 L798.7,740.9 L793.9,740.4 L793.3,817.6 L790.0,817.6 L788.7,823.5 L787.0,823.5 L786.1,757.2 L781.7,757.2 L779.6,725.7 L778.3,713.7 L774.6,712.6 L772.4,651.7 L771.3,640.4 L764.3,643.0 L763.0,713.7 L757.2,713.7 L754.3,709.3 L752.8,735.4 L747.4,735.4 L746.3,694.1 L744.8,671.3 L743.5,697.4 L737.6,697.4 L736.5,626.1 L735.4,647.0 L731.7,647.4 L730.4,698.5 L725.2,698.5 L723.5,677.4 L718.0,676.7 L717.0,642.0 L713.7,640.9 L711.5,629.6 L710.4,658.7 L703.9,659.3 L702.8,642.0 L701.7,662.2 L697.0,662.6 L695.2,679.6 L689.8,679.6 L688.7,627.8 L687.6,597.4 L687.0,608.3 L684.3,609.3 L683.3,653.9 L680.4,656.1 L679.6,670.9 L673.9,671.3 L673.0,678.3 L668.0,678.9 L665.9,682.2 L660.4,683.3 L659.3,665.9 L658.3,727.8 L652.8,727.8 L652.2,676.7 L649.6,675.7 L648.5,616.5 L646.3,615.9 L645.7,642.0 L639.8,642.0 L637.6,624.6 L634.8,619.1 L633.3,640.9 L632.2,713.7 L630.0,720.9 L624.6,720.9 L623.5,683.3 L622.4,696.3 L619.1,697.4 L618.0,714.8 L612.2,714.8 L611.5,648.5 L608.7,647.4 L607.8,617.0 L607.2,675.7 L604.6,676.7 L603.5,697.0 L599.6,697.4 L598.5,719.1 L592.0,719.1 L589.8,708.3 L588.7,649.6 L587.6,680.0 L580.4,680.0 L580.0,605.0 L577.4,603.9 L576.7,633.3 L572.4,633.9 L571.3,669.6 L566.5,670.2 L565.9,724.6 L560.0,724.6 L558.7,645.2 L557.8,667.4 L552.8,668.7 L548.5,658.7 L545.7,658.7 L544.8,685.4 L540.9,686.5 L538.7,689.8 L533.3,689.8 L531.1,673.5 L530.0,640.9 L523.0,640.4 L522.4,610.4 L519.6,622.4 L518.0,629.6 L511.5,630.0 L510.4,694.1 L508.3,695.2 L507.2,725.7 L500.2,725.7 L499.1,762.2 L493.0,762.2 L492.0,748.5 L487.2,747.4 L485.4,696.3 L482.2,697.4 L481.1,726.7 L477.2,726.7 L476.1,749.6 L470.9,749.6 L470.2,725.7 L468.0,724.6 L467.0,703.9 L462.6,702.8 L460.9,697.4 L458.7,664.8 L457.8,632.2 L456.5,651.7 L453.5,651.7 L451.7,662.6 L447.4,663.7 L446.3,712.6 L440.4,712.6 L439.8,673.5 L438.3,685.4 L437.0,695.2 L436.1,785.4 L428.9,785.4 L427.8,775.2 L423.0,774.6 L422.4,748.5 L420.2,748.5 L419.1,757.2 L413.0,757.2 L412.6,739.8 L408.3,738.7 L407.2,723.5 L402.8,722.4 L400.7,697.4 L399.6,675.7 L395.2,671.3 L393.0,638.7 L392.0,603.9Z" fill="#008000" stroke="#008000" stroke-width="1" stroke-linejoin="round" clip-path="url(#ca)"/>
<path d="M397.5,485.8 L399.5,477.6 L401.5,475.7 L403.5,464.2 L405.5,474.1 L407.5,474.1 L409.5,476.4 L411.5,473.7 L413.5,477.9 L415.5,476.0 L417.5,471.7 L419.5,485.6 L421.5,486.3 L423.5,491.9 L425.5,482.4 L427.5,480.1 L429.5,479.6 L431.5,473.8 L433.5,489.2 L435.5,476.7 L437.5,476.1 L439.5,481.9 L441.5,491.9 L443.5,484.1 L445.5,476.3 L447.5,478.0 L449.5,485.8 L451.5,480.8 L453.5,477.1 L455.5,480.2 L457.5,486.1 L459.5,492.0 L461.5,474.4 L463.5,478.3 L465.5,477.5 L467.5,468.2 L469.5,477.6 L471.5,477.5 L473.5,490.8 L475.5,483.7 L477.5,475.2 L479.5,489.2 L481.5,483.5 L483.5,475.4 L485.5,482.3 L487.5,482.4 L489.5,480.5 L491.5,485.7 L493.5,471.7 L495.5,483.0 L497.5,490.1 L499.5,488.5 L501.5,489.3 L503.5,488.6 L505.5,490.0 L507.5,473.5 L509.5,484.5 L511.5,467.5 L513.5,474.4 L515.5,465.9 L517.5,483.2 L519.5,484.6 L521.5,475.1 L523.5,486.8 L525.5,472.1 L527.5,477.2 L529.5,477.4 L531.5,470.4 L533.5,479.7 L535.5,489.2 L537.5,471.8 L539.5,483.8 L541.5,477.9 L543.5,489.9 L545.5,482.5 L547.5,484.0 L549.5,484.0 L551.5,481.8 L553.5,472.0 L555.5,488.7 L557.5,472.0 L559.5,481.5 L561.5,483.6 L563.5,474.6 L565.5,480.3 L567.5,486.2 L569.5,478.8 L571.5,473.4 L573.5,461.1 L575.5,472.8 L577.5,475.1 L579.5,475.7 L581.5,473.3 L583.5,481.6 L585.5,476.4 L587.5,479.7 L589.5,485.0 L591.5,476.5 L593.5,480.5 L595.5,492.0 L597.5,489.0 L599.5,476.7 L601.5,484.7 L603.5,489.1 L605.5,492.0 L607.5,487.5 L609.5,483.7 L611.5,482.6 L613.5,490.8 L615.5,488.7 L617.5,483.5 L619.5,485.1 L621.5,483.2 L623.5,489.5 L625.5,480.4 L627.5,486.8 L629.5,488.3 L631.5,485.4 L633.5,476.8 L635.5,489.3 L637.5,476.6 L639.5,482.8 L641.5,475.3 L643.5,469.1 L645.5,480.7 L647.5,481.0 L649.5,478.8 L651.5,481.0 L653.5,475.6 L655.5,475.2 L657.5,478.8 L659.5,491.5 L661.5,485.2 L663.5,477.4 L665.5,484.0 L667.5,477.9 L669.5,478.0 L671.5,485.8 L673.5,477.4 L675.5,470.3 L677.5,474.6 L679.5,480.2 L681.5,480.0 L683.5,486.2 L685.5,473.9 L687.5,482.1 L689.5,479.8 L691.5,475.9 L693.5,481.4 L695.5,479.0 L697.5,470.7 L699.5,482.2 L701.5,468.5 L703.5,476.3 L705.5,476.2 L707.5,479.1 L709.5,472.7 L711.5,477.5 L713.5,477.5 L715.5,485.1 L717.5,475.1 L719.5,481.2 L721.5,480.0 L723.5,474.5 L725.5,492.0 L727.5,483.3 L729.5,475.4 L731.5,492.0 L733.5,478.7 L735.5,487.6 L737.5,490.6 L739.5,481.6 L741.5,482.8 L743.5,481.9 L745.5,484.1 L747.5,474.8 L749.5,476.7 L751.5,482.9 L753.5,489.6 L755.5,486.8 L757.5,492.0 L759.5,486.5 L761.5,479.0 L763.5,481.2 L765.5,469.7 L767.5,476.1 L769.5,475.8 L771.5,483.7 L773.5,486.2 L775.5,479.2 L777.5,479.3 L779.5,473.8 L781.5,482.6 L783.5,485.1 L785.5,486.5 L787.5,479.2 L789.5,492.0 L791.5,491.0 L793.5,483.1 L795.5,480.2 L797.5,481.1 L799.5,483.4 L801.5,481.8 L803.5,484.2 L805.5,485.2 L807.5,488.0 L809.5,486.0 L811.5,477.7 L813.5,479.9 L815.5,474.6 L817.5,472.8 L819.5,487.3 L821.5,472.7 L823.5,487.2 L825.5,473.0 L827.5,476.6 L829.5,481.8 L831.5,475.6 L833.5,478.2 L835.5,474.9 L837.5,474.0 L839.5,476.4 L841.5,474.2 L843.5,488.5 L845.5,478.4 L847.5,490.3 L849.5,464.4 L851.5,481.2 L853.5,484.8 L855.5,480.0 L857.5,488.6 L859.5,486.0 L861.5,480.6 L863.5,484.8 L865.5,492.0 L867.5,483.5 L869.5,483.6 L871.5,478.9 L873.5,482.2 L875.5,473.4 L877.5,479.8 L879.5,492.0 L881.5,487.3 L883.5,484.7 L885.5,487.6 L887.5,492.0 L889.5,485.1 L891.5,492.0 L893.5,488.8 L895.5,483.8 L897.5,492.0 L899.5,469.8 L901.5,481.0 L903.5,486.6 L905.5,480.0 L907.5,484.9 L909.5,482.4 L911.5,482.5 L913.5,492.0 L915.5,490.3 L917.5,486.0 L919.5,492.0 L921.5,484.2 L923.5,490.5 L925.5,486.7 L927.5,492.0 L929.5,474.6 L931.5,486.9 L933.5,482.2 L935.5,473.8 L937.5,486.3 L939.5,474.0 L941.5,488.3 L943.5,481.1 L945.5,481.8 L947.5,477.8 L949.5,482.5 L951.5,465.8 L953.5,477.4 L955.5,473.3 L957.5,479.0 L959.5,477.3 L961.5,481.6 L963.5,473.2 L965.5,489.6 L967.5,492.0 L969.5,478.0 L971.5,479.5 L973.5,481.5 L975.5,487.5 L977.5,491.4 L979.5,472.8 L981.5,476.2 L983.5,473.4 L985.5,472.9 L987.5,469.5 L989.5,481.2 L991.5,471.8 L993.5,487.4 L995.5,483.6 L997.5,471.7 L999.5,471.5 L1001.5,473.9 L1003.5,486.0 L1005.5,472.6 L1007.5,468.9 L1009.5,477.9 L1011.5,480.9 L1013.5,475.2 L1015.5,489.5 L1017.5,481.9 L1019.5,483.9 L1021.5,476.8 L1023.5,482.5 L1025.5,482.6 L1027.5,470.6 L1029.5,486.6 L1031.5,474.7 L1033.5,485.8 L1035.5,477.5 L1037.5,492.0 L1039.5,488.7 L1041.5,491.9 L1043.5,492.0 L1045.5,478.5 L1047.5,472.4 L1049.5,483.6 L1051.5,490.5 L1053.5,485.1 L1055.5,488.6 L1057.5,488.9 L1059.5,473.7 L1061.5,483.9 L1063.5,492.0 L1065.5,477.8 L1067.5,468.6 L1069.5,479.2 L1071.5,477.6 L1073.5,482.8 L1075.5,474.9 L1077.5,480.9 L1079.5,467.1 L1081.5,485.7 L1083.5,490.3 L1085.5,488.8 L1087.5,472.1 L1089.5,483.3 L1091.5,463.6 L1093.5,483.3 L1095.5,481.2 L1097.5,475.5 L1099.5,483.4 L1101.5,481.9 L1103.5,486.3 L1105.5,481.0 L1107.5,481.1 L1109.5,467.5 L1111.5,471.6 L1113.5,475.1 L1115.5,479.2 L1117.5,476.8 L1119.5,485.4 L1121.5,470.7 L1123.5,474.2 L1125.5,476.9 L1127.5,473.9 L1129.5,478.3 L1131.5,472.0 L1133.5,484.3 L1135.5,474.2 L1137.5,483.3 L1139.5,477.1 L1141.5,486.9 L1143.5,470.3 L1145.5,482.6 L1147.5,477.7 L1149.5,482.4 L1151.5,488.9 L1153.5,475.6 L1153.5,526.3 L1151.5,528.9 L1149.5,525.0 L1147.5,527.8 L1145.5,521.7 L1143.5,527.3 L1141.5,529.3 L1139.5,526.1 L1137.5,518.7 L1135.5,531.9 L1133.5,520.5 L1131.5,516.0 L1129.5,517.9 L1127.5,531.0 L1125.5,522.2 L1123.5,515.0 L1121.5,521.6 L1119.5,529.8 L1117.5,516.6 L1115.5,515.0 L1113.5,528.4 L1111.5,526.0 L1109.5,522.2 L1107.5,523.0 L1105.5,530.0 L1103.5,527.0 L1101.5,523.0 L1099.5,529.7 L1097.5,527.8 L1095.5,527.3 L1093.5,527.8 L1091.5,535.2 L1089.5,538.7 L1087.5,533.3 L1085.5,529.2 L1083.5,537.0 L1081.5,528.1 L1079.5,527.6 L1077.5,520.1 L1075.5,540.3 L1073.5,530.6 L1071.5,525.3 L1069.5,522.1 L1067.5,529.8 L1065.5,520.3 L1063.5,530.1 L1061.5,513.9 L1059.5,527.5 L1057.5,530.6 L1055.5,518.5 L1053.5,524.7 L1051.5,524.1 L1049.5,518.3 L1047.5,527.6 L1045.5,523.9 L1043.5,529.7 L1041.5,529.2 L1039.5,538.9 L1037.5,529.4 L1035.5,526.3 L1033.5,542.0 L1031.5,519.1 L1029.5,531.5 L1027.5,523.8 L1025.5,522.1 L1023.5,517.2 L1021.5,531.0 L1019.5,527.8 L1017.5,520.4 L1015.5,518.8 L1013.5,529.2 L1011.5,529.3 L1009.5,528.5 L1007.5,520.5 L1005.5,523.3 L1003.5,531.0 L1001.5,518.7 L999.5,516.2 L997.5,526.5 L995.5,527.3 L993.5,525.3 L991.5,524.3 L989.5,519.4 L987.5,521.8 L985.5,531.2 L983.5,522.8 L981.5,540.7 L979.5,527.0 L977.5,531.6 L975.5,543.0 L973.5,513.6 L971.5,524.6 L969.5,542.4 L967.5,527.6 L965.5,523.6 L963.5,537.4 L961.5,520.9 L959.5,522.1 L957.5,533.2 L955.5,531.4 L953.5,528.0 L951.5,520.8 L949.5,532.9 L947.5,524.2 L945.5,525.1 L943.5,532.9 L941.5,524.8 L939.5,515.6 L937.5,529.0 L935.5,532.9 L933.5,524.6 L931.5,528.4 L929.5,524.7 L927.5,529.6 L925.5,528.9 L923.5,527.7 L921.5,533.5 L919.5,527.4 L917.5,526.4 L915.5,529.2 L913.5,533.3 L911.5,528.4 L909.5,524.4 L907.5,533.4 L905.5,521.0 L903.5,525.4 L901.5,527.7 L899.5,538.0 L897.5,526.9 L895.5,523.2 L893.5,520.0 L891.5,521.9 L889.5,524.3 L887.5,512.0 L885.5,529.7 L883.5,524.7 L881.5,517.9 L879.5,519.7 L877.5,523.6 L875.5,526.7 L873.5,513.9 L871.5,519.0 L869.5,515.8 L867.5,514.1 L865.5,518.2 L863.5,531.0 L861.5,533.3 L859.5,532.6 L857.5,521.5 L855.5,530.1 L853.5,516.6 L851.5,524.6 L849.5,537.6 L847.5,536.3 L845.5,519.0 L843.5,523.2 L841.5,517.3 L839.5,526.3 L837.5,526.1 L835.5,523.4 L833.5,530.5 L831.5,513.2 L829.5,530.6 L827.5,528.8 L825.5,517.3 L823.5,520.3 L821.5,522.6 L819.5,519.7 L817.5,535.5 L815.5,526.9 L813.5,522.1 L811.5,537.7 L809.5,517.1 L807.5,517.2 L805.5,524.2 L803.5,536.9 L801.5,535.3 L799.5,529.1 L797.5,526.3 L795.5,523.8 L793.5,527.3 L791.5,535.8 L789.5,529.2 L787.5,531.2 L785.5,529.2 L783.5,529.5 L781.5,536.6 L779.5,532.2 L777.5,524.1 L775.5,517.2 L773.5,536.7 L771.5,519.6 L769.5,523.4 L767.5,524.2 L765.5,522.6 L763.5,522.5 L761.5,520.2 L759.5,529.8 L757.5,524.3 L755.5,514.9 L753.5,520.8 L751.5,520.7 L749.5,534.8 L747.5,522.5 L745.5,531.9 L743.5,528.9 L741.5,535.8 L739.5,525.9 L737.5,522.3 L735.5,514.8 L733.5,524.0 L731.5,514.8 L729.5,526.2 L727.5,517.9 L725.5,523.4 L723.5,519.9 L721.5,514.9 L719.5,529.1 L717.5,521.0 L715.5,524.1 L713.5,521.6 L711.5,520.3 L709.5,526.4 L707.5,517.9 L705.5,530.3 L703.5,526.9 L701.5,517.6 L699.5,521.8 L697.5,521.2 L695.5,530.0 L693.5,529.3 L691.5,525.2 L689.5,521.2 L687.5,519.4 L685.5,523.2 L683.5,518.3 L681.5,522.7 L679.5,518.6 L677.5,521.0 L675.5,520.1 L673.5,523.6 L671.5,533.4 L669.5,530.7 L667.5,530.5 L665.5,536.6 L663.5,523.1 L661.5,523.0 L659.5,527.8 L657.5,536.4 L655.5,518.1 L653.5,525.5 L651.5,535.4 L649.5,532.8 L647.5,531.4 L645.5,532.1 L643.5,519.9 L641.5,524.7 L639.5,536.8 L637.5,528.4 L635.5,524.4 L633.5,529.1 L631.5,522.6 L629.5,533.5 L627.5,530.6 L625.5,516.9 L623.5,522.9 L621.5,515.6 L619.5,528.5 L617.5,538.3 L615.5,524.9 L613.5,527.0 L611.5,524.7 L609.5,526.9 L607.5,525.5 L605.5,536.1 L603.5,525.7 L601.5,529.9 L599.5,529.7 L597.5,529.7 L595.5,526.4 L593.5,518.5 L591.5,522.5 L589.5,519.8 L587.5,525.3 L585.5,527.2 L583.5,518.6 L581.5,521.5 L579.5,520.9 L577.5,519.7 L575.5,518.1 L573.5,524.3 L571.5,512.0 L569.5,515.8 L567.5,531.6 L565.5,513.4 L563.5,516.6 L561.5,512.0 L559.5,518.3 L557.5,515.6 L555.5,520.9 L553.5,529.3 L551.5,527.0 L549.5,519.6 L547.5,525.8 L545.5,531.0 L543.5,526.3 L541.5,535.3 L539.5,528.7 L537.5,534.3 L535.5,539.3 L533.5,528.3 L531.5,523.4 L529.5,534.7 L527.5,521.1 L525.5,528.4 L523.5,521.9 L521.5,526.5 L519.5,528.0 L517.5,540.6 L515.5,527.5 L513.5,528.7 L511.5,529.0 L509.5,517.1 L507.5,527.1 L505.5,521.7 L503.5,526.9 L501.5,527.4 L499.5,516.5 L497.5,532.7 L495.5,533.5 L493.5,527.7 L491.5,536.5 L489.5,527.7 L487.5,534.6 L485.5,529.1 L483.5,529.8 L481.5,521.6 L479.5,532.5 L477.5,522.2 L475.5,533.4 L473.5,526.3 L471.5,532.8 L469.5,539.1 L467.5,530.8 L465.5,518.3 L463.5,512.0 L461.5,523.7 L459.5,525.9 L457.5,518.0 L455.5,513.2 L453.5,530.7 L451.5,513.8 L449.5,530.4 L447.5,522.5 L445.5,533.4 L443.5,512.9 L441.5,521.4 L439.5,521.0 L437.5,515.2 L435.5,521.8 L433.5,526.3 L431.5,531.7 L429.5,519.2 L427.5,525.4 L425.5,516.7 L423.5,525.9 L421.5,526.7 L419.5,523.8 L417.5,528.1 L415.5,517.5 L413.5,526.3 L411.5,527.8 L409.5,520.1 L407.5,514.3 L405.5,521.0 L403.5,527.4 L401.5,517.1 L399.5,525.9 L397.5,523.1Z" fill="#800080" stroke="#800080" stroke-width="1" stroke-linejoin="round" clip-path="url(#ca)"/>
<path d="M392,1427.0 L393,1426.3 L394,1425.6 L395,1424.9 L396,1424.2 L397,1423.5 L398,1422.7 L399,1422.0 L400,1414.6 L401,1403.1 L402,1403.1 L403,1403.1 L404,1403.1 L405,1403.1 L406,1403.1 L407,1403.1 L408,1403.1 L409,1435.7 L410,1446.7 L411,1436.2 L412,1430.3 L413,1430.3 L414,1430.3 L415,1430.3 L416,1430.3 L417,1430.3 L418,1433.8 L419,1437.3 L420,1441.8 L421,1446.5 L422,1451.1 L423,1473.4 L424,1650.5 L425,1722.6 L426,1737.9 L427,1750.4 L428,1751.9 L429,1753.4 L430,1754.9 L431,1756.4 L432,1797.7 L433,1808.8 L434,1808.8 L435,1808.8 L436,1808.8 L437,1770.1 L438,1707.6 L439,1707.6 L440,1707.6 L441,1707.6 L442,1707.6 L443,1707.6 L444,1707.6 L445,1734.0 L446,1744.0 L447,1744.7 L448,1745.3 L449,1766.3 L450,1796.3 L451,1797.8 L452,1799.3 L453,1800.8 L454,1802.3 L455,1809.3 L456,1816.3 L457,1808.9 L458,1798.6 L459,1788.3 L460,1783.7 L461,1783.5 L462,1783.4 L463,1783.2 L464,1783.0 L465,1782.9 L466,1783.9 L467,1815.9 L468,1817.5 L469,1817.5 L470,1817.5 L471,1817.5 L472,1800.8 L473,1786.9 L474,1786.5 L475,1786.2 L476,1761.3 L477,1720.0 L478,1720.0 L479,1720.0 L480,1720.0 L481,1720.0 L482,1725.6 L483,1752.4 L484,1753.2 L485,1754.0 L486,1790.9 L487,1842.5 L488,1842.5 L489,1842.5 L490,1842.5 L491,1842.4 L492,1830.4 L493,1829.0 L494,1828.5 L495,1734.8 L496,1734.8 L497,1734.8 L498,1734.8 L499,1734.8 L500,1734.8 L501,1745.2 L502,1787.2 L503,1788.6 L504,1789.9 L505,1791.2 L506,1576.1 L507,1411.8 L508,1411.8 L509,1411.8 L510,1411.8 L511,1411.8 L512,1411.8 L513,1419.2 L514,1443.0 L515,1433.5 L516,1424.0 L517,1419.9 L518,1415.9 L519,1415.1 L520,1415.1 L521,1415.1 L522,1415.1 L523,1415.1 L524,1415.1 L525,1415.1 L526,1415.1 L527,1415.1 L528,1415.1 L529,1415.1 L530,1415.1 L531,1418.0 L532,1421.5 L533,1422.9 L534,1423.1 L535,1423.4 L536,1423.6 L537,1427.1 L538,1437.7 L539,1409.0 L540,1391.1 L541,1391.1 L542,1391.1 L543,1391.1 L544,1391.1 L545,1391.1 L546,1395.3 L547,1402.2 L548,1417.1 L549,1497.8 L550,1670.8 L551,1670.8 L552,1631.9 L553,1442.1 L554,1441.8 L555,1441.5 L556,1430.0 L557,1379.2 L558,1379.2 L559,1379.2 L560,1379.2 L561,1379.2 L562,1379.2 L563,1379.2 L564,1386.3 L565,1395.8 L566,1413.9 L567,1427.4 L568,1428.9 L569,1403.7 L570,1392.2 L571,1392.2 L572,1392.2 L573,1392.2 L574,1392.2 L575,1392.2 L576,1392.2 L577,1479.0 L578,1738.0 L579,1754.8 L580,1729.4 L581,1729.4 L582,1729.4 L583,1729.4 L584,1729.4 L585,1729.4 L586,1729.4 L587,1729.4 L588,1729.4 L589,1730.8 L590,1749.8 L591,1751.5 L592,1753.0 L593,1754.5 L594,1756.0 L595,1761.7 L596,1765.3 L597,1765.3 L598,1765.3 L599,1741.6 L600,1710.9 L601,1710.9 L602,1710.9 L603,1710.9 L604,1710.9 L605,1710.9 L606,1714.2 L607,1741.1 L608,1749.6 L609,1758.1 L610,1783.2 L611,1811.2 L612,1795.5 L613,1794.5 L614,1793.6 L615,1793.6 L616,1793.6 L617,1793.6 L618,1793.6 L619,1779.6 L620,1771.8 L621,1771.8 L622,1413.8 L623,1412.9 L624,1412.9 L625,1412.9 L626,1412.9 L627,1412.9 L628,1412.9 L629,1422.9 L630,1424.6 L631,1424.3 L632,1423.9 L633,1393.4 L634,1363.9 L635,1363.9 L636,1363.9 L637,1363.9 L638,1363.9 L639,1364.8 L640,1400.8 L641,1408.7 L642,1414.7 L643,1420.7 L644,1384.9 L645,1361.3 L646,1361.3 L647,1361.3 L648,1361.3 L649,1361.3 L650,1361.3 L651,1363.3 L652,1399.7 L653,1401.4 L654,1401.9 L655,1402.4 L656,1402.9 L657,1404.9 L658,1407.9 L659,1410.9 L660,1413.9 L661,1415.5 L662,1412.8 L663,1410.1 L664,1407.5 L665,1385.3 L666,1385.3 L667,1385.3 L668,1385.3 L669,1385.3 L670,1385.3 L671,1401.3 L672,1417.2 L673,1402.7 L674,1391.1 L675,1391.1 L676,1391.1 L677,1391.1 L678,1391.1 L679,1391.1 L680,1391.1 L681,1453.8 L682,1596.5 L683,1686.0 L684,1686.0 L685,1686.0 L686,1686.0 L687,1686.0 L688,1686.0 L689,1686.0 L690,1686.0 L691,1450.9 L692,1450.8 L693,1450.6 L694,1450.4 L695,1450.2 L696,1450.0 L697,1436.9 L698,1408.9 L699,1406.2 L700,1403.4 L701,1400.7 L702,1397.9 L703,1391.3 L704,1384.3 L705,1382.4 L706,1382.4 L707,1382.4 L708,1382.4 L709,1382.4 L710,1382.4 L711,1394.2 L712,1443.8 L713,1437.8 L714,1431.8 L715,1430.2 L716,1429.0 L717,1427.7 L718,1426.5 L719,1414.8 L720,1403.3 L721,1399.3 L722,1395.3 L723,1391.3 L724,1387.9 L725,1387.9 L726,1387.9 L727,1387.9 L728,1387.9 L729,1387.9 L730,1389.6 L731,1415.1 L732,1415.1 L733,1415.1 L734,1415.1 L735,1415.1 L736,1415.1 L737,1417.7 L738,1446.6 L739,1446.5 L740,1446.4 L741,1446.2 L742,1446.1 L743,1445.9 L744,1445.8 L745,1445.6 L746,1457.5 L747,1459.1 L748,1405.3 L749,1405.3 L750,1405.3 L751,1405.3 L752,1405.3 L753,1405.3 L754,1406.8 L755,1408.8 L756,1409.6 L757,1409.6 L758,1409.6 L759,1409.6 L760,1406.3 L761,1394.4 L762,1394.1 L763,1393.9 L764,1393.7 L765,1393.5 L766,1370.9 L767,1353.1 L768,1353.1 L769,1353.1 L770,1353.1 L771,1353.1 L772,1353.1 L773,1375.5 L774,1432.6 L775,1430.8 L776,1429.0 L777,1427.2 L778,1425.3 L779,1418.9 L780,1410.7 L781,1410.7 L782,1410.7 L783,1410.7 L784,1410.7 L785,1410.7 L786,1410.7 L787,1410.7 L788,1410.7 L789,1410.7 L790,1414.0 L791,1414.0 L792,1414.0 L793,1414.0 L794,1414.0 L795,1414.0 L796,1408.4 L797,1403.1 L798,1403.1 L799,1403.1 L800,1403.1 L801,1403.1 L802,1402.8 L803,1392.8 L804,1392.2 L805,1392.2 L806,1392.2 L807,1392.2 L808,1392.2 L809,1401.3 L810,1404.6 L811,1387.1 L812,1381.2 L813,1381.1 L814,1380.9 L815,1380.7 L816,1380.6 L817,1380.4 L818,1379.0 L819,1370.9 L820,1370.9 L821,1370.9 L822,1370.9 L823,1370.9 L824,1370.9 L825,1370.9 L826,1403.6 L827,1418.3 L828,1414.0 L829,1414.0 L830,1414.0 L831,1414.0 L832,1414.0 L833,1402.7 L834,1392.2 L835,1392.2 L836,1392.2 L837,1392.2 L838,1392.2 L839,1392.2 L840,1392.2 L841,1415.2 L842,1431.9 L843,1432.6 L844,1433.3 L845,1420.7 L846,1403.7 L847,1400.5 L848,1400.5 L849,1400.5 L850,1400.5 L851,1400.5 L852,1400.5 L853,1400.5 L854,1409.7 L855,1412.0 L856,1412.3 L857,1412.5 L858,1412.8 L859,1429.5 L860,1639.9 L861,1677.2 L862,1674.7 L863,1672.2 L864,1669.7 L865,1669.7 L866,1669.7 L867,1669.7 L868,1669.7 L869,1669.7 L870,1669.7 L871,1682.6 L872,1700.2 L873,1702.9 L874,1705.7 L875,1708.5 L876,1540.5 L877,1396.7 L878,1395.2 L879,1393.7 L880,1393.2 L881,1393.0 L882,1392.8 L883,1392.6 L884,1392.5 L885,1392.3 L886,1431.3 L887,1424.8 L888,1407.9 L889,1395.7 L890,1395.3 L891,1395.0 L892,1394.8 L893,1394.5 L894,1392.5 L895,1391.1 L896,1391.1 L897,1391.1 L898,1391.1 L899,1391.1 L900,1429.6 L901,1436.2 L902,1436.8 L903,1424.9 L904,1422.6 L905,1422.4 L906,1422.2 L907,1422.1 L908,1421.9 L909,1421.7 L910,1425.7 L911,1439.0 L912,1411.6 L913,1400.9 L914,1397.7 L915,1394.4 L916,1391.2 L917,1390.5 L918,1390.5 L919,1390.5 L920,1390.5 L921,1390.5 L922,1390.5 L923,1397.0 L924,1399.4 L925,1400.2 L926,1400.9 L927,1410.8 L928,1407.3 L929,1402.3 L930,1398.1 L931,1394.1 L932,1392.2 L933,1392.0 L934,1391.9 L935,1391.7 L936,1391.6 L937,1391.4 L938,1391.3 L939,1391.2 L940,1407.8 L941,1410.7 L942,1410.7 L943,1410.7 L944,1410.7 L945,1410.7 L946,1412.7 L947,1416.1 L948,1415.8 L949,1415.6 L950,1415.3 L951,1415.1 L952,1406.1 L953,1404.9 L954,1404.9 L955,1404.9 L956,1404.9 L957,1404.9 L958,1408.0 L959,1413.0 L960,1413.2 L961,1413.4 L962,1413.6 L963,1413.8 L964,1414.0 L965,1423.0 L966,1433.0 L967,1414.1 L968,1401.4 L969,1398.8 L970,1396.1 L971,1401.4 L972,1420.4 L973,1433.4 L974,1421.4 L975,1409.3 L976,1389.3 L977,1387.9 L978,1387.9 L979,1387.9 L980,1387.9 L981,1387.9 L982,1387.9 L983,1400.3 L984,1421.7 L985,1422.0 L986,1422.4 L987,1422.9 L988,1426.9 L989,1430.9 L990,1429.7 L991,1427.7 L992,1418.0 L993,1405.0 L994,1398.7 L995,1398.7 L996,1398.6 L997,1398.5 L998,1398.5 L999,1398.4 L1000,1398.4 L1001,1409.0 L1002,1416.5 L1003,1396.1 L1004,1390.5 L1005,1390.5 L1006,1390.5 L1007,1390.5 L1008,1390.5 L1009,1390.5 L1010,1390.5 L1011,1413.1 L1012,1428.7 L1013,1427.6 L1014,1426.4 L1015,1425.3 L1016,1424.2 L1017,1423.6 L1018,1423.2 L1019,1422.9 L1020,1422.6 L1021,1422.2 L1022,1421.9 L1023,1419.7 L1024,1406.4 L1025,1406.2 L1026,1406.0 L1027,1405.9 L1028,1405.7 L1029,1405.5 L1030,1405.4 L1031,1403.7 L1032,1402.0 L1033,1402.0 L1034,1402.0 L1035,1402.0 L1036,1402.0 L1037,1402.0 L1038,1412.6 L1039,1429.4 L1040,1429.8 L1041,1430.2 L1042,1533.8 L1043,1725.2 L1044,1725.2 L1045,1725.2 L1046,1725.2 L1047,1725.2 L1048,1732.7 L1049,1769.6 L1050,1769.6 L1051,1769.6 L1052,1769.6 L1053,1769.6 L1054,1769.6 L1055,1786.5 L1056,1801.4 L1057,1801.9 L1058,1806.7 L1059,1818.2 L1060,1821.2 L1061,1824.0 L1062,1824.0 L1063,1824.0 L1064,1824.0 L1065,1774.5 L1066,1732.4 L1067,1732.0 L1068,1731.7 L1069,1726.1 L1070,1713.7 L1071,1452.7 L1072,1387.9 L1073,1387.9 L1074,1387.9 L1075,1387.9 L1076,1387.9 L1077,1387.9 L1078,1424.4 L1079,1442.7 L1080,1443.4 L1081,1444.0 L1082,1432.3 L1083,1409.6 L1084,1409.6 L1085,1409.5 L1086,1409.5 L1087,1409.4 L1088,1409.3 L1089,1409.3 L1090,1409.2 L1091,1406.8 L1092,1405.3 L1093,1405.3 L1094,1405.3 L1095,1405.3 L1096,1405.3 L1097,1406.7 L1098,1416.2 L1099,1416.4 L1100,1416.7 L1101,1416.9 L1102,1417.2 L1103,1440.5 L1104,1442.4 L1105,1424.9 L1106,1418.3 L1107,1413.3 L1108,1408.3 L1109,1407.5 L1110,1407.5 L1111,1407.5 L1112,1407.5 L1113,1407.5 L1114,1407.5 L1115,1401.5 L1116,1385.7 L1117,1385.7 L1118,1385.7 L1119,1385.7 L1120,1385.7 L1121,1385.7 L1122,1385.7 L1123,1400.8 L1124,1414.4 L1125,1415.0 L1126,1415.6 L1127,1416.7 L1128,1420.9 L1129,1418.0 L1130,1410.0 L1131,1405.3 L1132,1405.2 L1133,1405.1 L1134,1405.1 L1135,1405.0 L1136,1404.9 L1137,1404.9 L1138,1414.0 L1139,1416.3 L1140,1416.5 L1141,1416.6 L1142,1416.8 L1143,1417.0 L1144,1417.1 L1145,1417.7 L1146,1419.2 L1147,1420.8 L1148,1423.8 L1149,1426.8 L1150,1430.7 L1151,1434.7 L1152,1433.0 L1153,1429.2 L1154,1427.5 L1155,1427.5 L1156,1427.5 L1157,1427.5 L1158,1427.5 L1159,1427.5 L1160,1431.2 L1161,1523.4 L1161,1551.1 L1160,1578.0 L1159,1610.2 L1158,1642.3 L1157,1701.2 L1156,1720.8 L1155,1720.8 L1154,1720.8 L1153,1720.8 L1152,1720.8 L1151,1720.8 L1150,1713.9 L1149,1673.9 L1148,1633.9 L1147,1651.8 L1146,1653.3 L1145,1653.1 L1144,1653.0 L1143,1652.8 L1142,1652.7 L1141,1652.5 L1140,1652.4 L1139,1659.6 L1138,1679.5 L1137,1679.5 L1136,1679.5 L1135,1679.5 L1134,1679.5 L1133,1679.5 L1132,1616.1 L1131,1588.8 L1130,1588.3 L1129,1581.1 L1128,1593.8 L1127,1628.4 L1126,1628.4 L1125,1628.4 L1124,1628.4 L1123,1628.4 L1122,1628.4 L1121,1596.6 L1120,1589.2 L1119,1589.2 L1118,1589.2 L1117,1589.2 L1116,1589.2 L1115,1588.1 L1114,1585.1 L1113,1582.6 L1112,1582.3 L1111,1581.9 L1110,1581.6 L1109,1732.0 L1108,1760.9 L1107,1760.9 L1106,1760.9 L1105,1760.9 L1104,1760.9 L1103,1760.9 L1102,1690.4 L1101,1644.3 L1100,1698.0 L1099,1697.8 L1098,1697.6 L1097,1697.4 L1096,1697.2 L1095,1697.0 L1094,1681.1 L1093,1616.1 L1092,1614.7 L1091,1617.6 L1090,1620.4 L1089,1600.7 L1088,1590.1 L1087,1643.6 L1086,1643.6 L1085,1643.6 L1084,1643.6 L1083,1643.6 L1082,1643.6 L1081,1643.6 L1080,1643.6 L1079,1642.7 L1078,1647.3 L1077,1663.7 L1076,1698.6 L1075,1992.2 L1074,1998.2 L1073,1998.5 L1072,1998.9 L1071,2006.0 L1070,2033.0 L1069,2033.0 L1068,2033.0 L1067,2033.0 L1066,2033.0 L1065,2033.0 L1064,2033.0 L1063,2030.8 L1062,2014.0 L1061,2032.0 L1060,2033.0 L1059,2033.0 L1058,2033.0 L1057,2033.0 L1056,2033.0 L1055,2027.9 L1054,2017.9 L1053,2028.9 L1052,2030.8 L1051,2030.8 L1050,2030.8 L1049,2030.8 L1048,2030.8 L1047,2030.8 L1046,2018.8 L1045,2014.4 L1044,2014.2 L1043,2014.0 L1042,2013.9 L1041,2013.7 L1040,2013.5 L1039,2004.6 L1038,1935.2 L1037,1666.4 L1036,1659.7 L1035,1653.1 L1034,1646.4 L1033,1655.8 L1032,1661.1 L1031,1661.4 L1030,1661.6 L1029,1661.8 L1028,1662.0 L1027,1678.8 L1026,1701.3 L1025,1701.6 L1024,1701.9 L1023,1702.2 L1022,1708.7 L1021,1721.9 L1020,1721.9 L1019,1721.9 L1018,1721.9 L1017,1721.9 L1016,1711.4 L1015,1679.9 L1014,1652.2 L1013,1644.7 L1012,1684.0 L1011,1731.7 L1010,1731.7 L1009,1731.7 L1008,1731.7 L1007,1731.7 L1006,1731.7 L1005,1708.7 L1004,1676.2 L1003,1676.0 L1002,1675.8 L1001,1675.6 L1000,1675.4 L999,1675.2 L998,1620.7 L997,1610.8 L996,1610.7 L995,1610.5 L994,1610.4 L993,1610.3 L992,1610.1 L991,1610.0 L990,1624.9 L989,1684.9 L988,1684.9 L987,1684.9 L986,1684.9 L985,1684.9 L984,1684.9 L983,1669.8 L982,1660.9 L981,1660.7 L980,1660.4 L979,1660.2 L978,1660.0 L977,1648.9 L976,1654.2 L975,1821.0 L974,1821.4 L973,1821.8 L972,1961.6 L971,2010.1 L970,2010.1 L969,2010.1 L968,2010.1 L967,2010.1 L966,2010.1 L965,1974.9 L964,1778.9 L963,1681.2 L962,1680.4 L961,1679.6 L960,1688.7 L959,1691.5 L958,1691.5 L957,1691.5 L956,1691.5 L955,1691.5 L954,1680.9 L953,1646.6 L952,1638.9 L951,1638.6 L950,1638.2 L949,1615.2 L948,1658.9 L947,1670.8 L946,1670.8 L945,1670.8 L944,1670.8 L943,1670.8 L942,1670.8 L941,1613.7 L940,1611.7 L939,1609.5 L938,1604.5 L937,1599.5 L936,1598.8 L935,1598.6 L934,1598.4 L933,1598.2 L932,1598.0 L931,1592.6 L930,1581.1 L929,1588.1 L928,1631.6 L927,1631.6 L926,1631.6 L925,1631.6 L924,1631.6 L923,1631.6 L922,1611.8 L921,1585.0 L920,1592.4 L919,1592.4 L918,1592.4 L917,1592.4 L916,1592.4 L915,1592.4 L914,1592.1 L913,1584.1 L912,1584.0 L911,1584.2 L910,1584.5 L909,1584.7 L908,1600.6 L907,1613.1 L906,1613.1 L905,1613.1 L904,1613.1 L903,1613.1 L902,1612.4 L901,1603.4 L900,1603.0 L899,1602.7 L898,1602.3 L897,1587.0 L896,1612.5 L895,1636.0 L894,1636.0 L893,1636.0 L892,1636.0 L891,1636.0 L890,1640.9 L889,1684.9 L888,1685.3 L887,1685.6 L886,1685.9 L885,1876.6 L884,2076.5 L883,2076.5 L882,2076.5 L881,2076.5 L880,2076.5 L879,2076.5 L878,2072.0 L877,2041.2 L876,2041.1 L875,2041.0 L874,2040.9 L873,2040.8 L872,2040.6 L871,2007.0 L870,1992.4 L869,1985.4 L868,1986.2 L867,1986.9 L866,1987.7 L865,1988.5 L864,1989.9 L863,1991.4 L862,1992.9 L861,2013.5 L860,2027.5 L859,2027.5 L858,2027.5 L857,2027.5 L856,2027.5 L855,2027.5 L854,2026.3 L853,2021.0 L852,2020.6 L851,2020.3 L850,2020.0 L849,1812.4 L848,1730.7 L847,1700.7 L846,1702.2 L845,1714.2 L844,1714.1 L843,1713.9 L842,1713.7 L841,1713.6 L840,1713.4 L839,1713.2 L838,1601.1 L837,1586.6 L836,1586.1 L835,1590.1 L834,1616.4 L833,1635.1 L832,1635.4 L831,1635.7 L830,1657.4 L829,1725.2 L828,1725.2 L827,1725.2 L826,1725.2 L825,1733.4 L824,1735.0 L823,1735.0 L822,1735.0 L821,1735.0 L820,1735.0 L819,1735.0 L818,1708.5 L817,1677.8 L816,1669.2 L815,1666.4 L814,1666.4 L813,1666.4 L812,1666.4 L811,1666.4 L810,1666.4 L809,1662.7 L808,1637.7 L807,1632.4 L806,1647.9 L805,1647.9 L804,1647.9 L803,1647.9 L802,1647.9 L801,1625.6 L800,1647.6 L799,1653.4 L798,1653.4 L797,1653.4 L796,1653.4 L795,1684.2 L794,1729.6 L793,1729.6 L792,1729.6 L791,1729.6 L790,1729.6 L789,1729.6 L788,1729.6 L787,1671.6 L786,1603.2 L785,1603.0 L784,1602.8 L783,1602.6 L782,1602.3 L781,1587.1 L780,1575.9 L779,1587.9 L778,1597.3 L777,1599.3 L776,1608.6 L775,1698.6 L774,1699.1 L773,1699.1 L772,1699.1 L771,1699.1 L770,1699.1 L769,1657.5 L768,1617.6 L767,1618.0 L766,1618.3 L765,1613.3 L764,1594.9 L763,1634.9 L762,1635.1 L761,1635.4 L760,1635.6 L759,1635.9 L758,1644.0 L757,1656.0 L756,1668.0 L755,1690.7 L754,1843.7 L753,1979.8 L752,1980.3 L751,1983.6 L750,2035.6 L749,2037.3 L748,2037.3 L747,2037.3 L746,2037.3 L745,2024.8 L744,1991.9 L743,1992.4 L742,1976.9 L741,1957.4 L740,2000.3 L739,2000.3 L738,2000.3 L737,2000.3 L736,2000.3 L735,2000.3 L734,1968.8 L733,1953.4 L732,1953.2 L731,1953.0 L730,1952.9 L729,1952.7 L728,1952.5 L727,1700.7 L726,1622.8 L725,1617.8 L724,1612.8 L723,1604.6 L722,1610.4 L721,1703.4 L720,1703.4 L719,1703.4 L718,1703.4 L717,1703.4 L716,1675.7 L715,1579.9 L714,1610.9 L713,1610.4 L712,1609.9 L711,1682.2 L710,1699.1 L709,1699.1 L708,1699.1 L707,1699.1 L706,1699.1 L705,1699.1 L704,1694.8 L703,1678.8 L702,1664.4 L701,1665.4 L700,1666.4 L699,1982.6 L698,2014.5 L697,2014.5 L696,2014.5 L695,2014.5 L694,2014.5 L693,2011.0 L692,2004.6 L691,2004.4 L690,2004.1 L689,2003.9 L688,2003.6 L687,2000.8 L686,1997.8 L685,1994.8 L684,1993.7 L683,1993.5 L682,1993.3 L681,1993.1 L680,1992.9 L679,1991.2 L678,1984.7 L677,1970.9 L676,1847.5 L675,1724.1 L674,1686.1 L673,1680.4 L672,1680.2 L671,1680.0 L670,1679.7 L669,1679.2 L668,1645.4 L667,1627.7 L666,1649.0 L665,1649.0 L664,1649.0 L663,1649.0 L662,1649.0 L661,1649.0 L660,1649.0 L659,1638.6 L658,1631.4 L657,1631.0 L656,1630.6 L655,1603.6 L654,1622.6 L653,1632.7 L652,1632.7 L651,1632.7 L650,1632.7 L649,1632.7 L648,1632.7 L647,1632.7 L646,1613.1 L645,1609.5 L644,1624.0 L643,1623.8 L642,1623.7 L641,1623.6 L640,1623.5 L639,1623.4 L638,1623.3 L637,1623.2 L636,1623.1 L635,1623.0 L634,1612.3 L633,1604.4 L632,1604.4 L631,1604.4 L630,1604.4 L629,1612.7 L628,1660.2 L627,1918.5 L626,2037.5 L625,2047.1 L624,2047.1 L623,2047.1 L622,2047.1 L621,2047.1 L620,2047.1 L619,2035.0 L618,2004.3 L617,1984.0 L616,1997.1 L615,1997.1 L614,1997.1 L613,1997.1 L612,1997.1 L611,1997.1 L610,1997.1 L609,1997.1 L608,1997.1 L607,1994.5 L606,1990.4 L605,1990.0 L604,1989.6 L603,2006.9 L602,2021.1 L601,2021.3 L600,2021.4 L599,2021.6 L598,2021.8 L597,2022.0 L596,2052.7 L595,2059.1 L594,2059.1 L593,2059.1 L592,2059.1 L591,2059.1 L590,2059.1 L589,2028.7 L588,2000.5 L587,2005.9 L586,2006.1 L585,2006.3 L584,2006.5 L583,2006.7 L582,2019.5 L581,2041.7 L580,2041.7 L579,2041.7 L578,2041.7 L577,2041.7 L576,2041.7 L575,2016.6 L574,2003.3 L573,2003.0 L572,2002.7 L571,1601.2 L570,1601.2 L569,1608.9 L568,1617.4 L567,1620.7 L566,1620.7 L565,1620.7 L564,1620.7 L563,1620.7 L562,1620.7 L561,1652.4 L560,1669.0 L559,1669.7 L558,1670.4 L557,1744.7 L556,1990.7 L555,1991.2 L554,1993.1 L553,2007.1 L552,2021.1 L551,2031.3 L550,2033.0 L549,2033.0 L548,2033.0 L547,2033.0 L546,2032.0 L545,2030.0 L544,2028.0 L543,1865.8 L542,1662.6 L541,1634.9 L540,1635.1 L539,1635.4 L538,1635.6 L537,1635.9 L536,1644.3 L535,1649.0 L534,1649.0 L533,1649.0 L532,1649.0 L531,1649.0 L530,1647.2 L529,1638.1 L528,1652.1 L527,1654.6 L526,1656.9 L525,1659.3 L524,1662.4 L523,1665.9 L522,1667.5 L521,1667.5 L520,1667.5 L519,1667.5 L518,1667.5 L517,1667.5 L516,1645.7 L515,1613.2 L514,1610.0 L513,1665.1 L512,1705.1 L511,1880.0 L510,1988.4 L509,1988.4 L508,1988.4 L507,1988.4 L506,1988.4 L505,1988.4 L504,1988.4 L503,1989.9 L502,1991.7 L501,1992.2 L500,1992.6 L499,2008.7 L498,2017.7 L497,2017.7 L496,2017.7 L495,2017.7 L494,2017.7 L493,2017.7 L492,2017.3 L491,2017.0 L490,2016.7 L489,2000.4 L488,1997.1 L487,1997.1 L486,1988.8 L485,1990.6 L484,1998.3 L483,1998.6 L482,1999.0 L481,2010.1 L480,2035.1 L479,2035.1 L478,2035.1 L477,2035.1 L476,2035.1 L475,2035.1 L474,2029.4 L473,2023.8 L472,2029.7 L471,2029.7 L470,2029.7 L469,2029.7 L468,2028.7 L467,2022.1 L466,2021.6 L465,2021.1 L464,2020.6 L463,2020.1 L462,2004.5 L461,1995.4 L460,1994.4 L459,1993.4 L458,1992.7 L457,1992.7 L456,1992.7 L455,1992.7 L454,1992.7 L453,1992.7 L452,1992.7 L451,1978.0 L450,1973.1 L449,1973.1 L448,1977.0 L447,1980.7 L446,1980.7 L445,1980.7 L444,1988.7 L443,2007.1 L442,2007.5 L441,2007.9 L440,2009.3 L439,2010.8 L438,2011.0 L437,2010.8 L436,2010.5 L435,2010.3 L434,2008.9 L433,2006.7 L432,2006.4 L431,2006.1 L430,2005.9 L429,2008.9 L428,2009.0 L427,2009.0 L426,2009.0 L425,2009.0 L424,2009.0 L423,2009.0 L422,2009.0 L421,1957.5 L420,1810.1 L419,1686.8 L418,1678.8 L417,1670.8 L416,1666.8 L415,1666.4 L414,1666.4 L413,1666.4 L412,1666.4 L411,1666.4 L410,1666.4 L409,1664.9 L408,1660.9 L407,1674.2 L406,1745.9 L405,1745.9 L404,1745.9 L403,1745.9 L402,1745.9 L401,1745.9 L400,1745.9 L399,1745.9 L398,1729.4 L397,1710.0 L396,1710.0 L395,1710.0 L394,1710.0 L393,1710.0 L392,1710.0Z" fill="#008000" stroke="#008000" stroke-width="1" stroke-linejoin="round" clip-path="url(#cc)"/>
<path d="M397.5,1536.3 L398.8,1523.0 L400.0,1547.7 L401.2,1523.1 L402.5,1532.1 L403.8,1510.6 L405.0,1538.5 L406.2,1519.8 L407.5,1531.2 L408.8,1524.2 L410.0,1537.7 L411.2,1528.0 L412.5,1533.9 L413.8,1530.4 L415.0,1538.3 L416.2,1537.2 L417.5,1546.7 L418.8,1559.7 L420.0,1589.0 L421.2,1624.7 L422.5,1672.7 L423.8,1720.6 L425.0,1777.7 L426.2,1817.0 L427.5,1848.7 L428.8,1868.7 L430.0,1889.6 L431.2,1902.8 L432.5,1919.8 L433.8,1923.1 L435.0,1918.9 L436.2,1897.3 L437.5,1894.3 L438.8,1879.2 L440.0,1875.9 L441.2,1859.1 L442.5,1862.9 L443.8,1838.1 L445.0,1859.8 L446.2,1848.1 L447.5,1880.1 L448.8,1874.5 L450.0,1893.2 L451.2,1890.7 L452.5,1907.4 L453.8,1890.9 L455.0,1920.7 L456.2,1898.0 L457.5,1907.6 L458.8,1894.1 L460.0,1913.2 L461.2,1896.3 L462.5,1919.9 L463.8,1899.4 L465.0,1919.5 L466.2,1900.5 L467.5,1920.3 L468.8,1898.2 L470.0,1925.1 L471.2,1911.2 L472.5,1921.3 L473.8,1898.8 L475.0,1912.0 L476.2,1890.2 L477.5,1899.6 L478.8,1885.1 L480.0,1912.5 L481.2,1904.1 L482.5,1929.9 L483.8,1902.6 L485.0,1933.6 L486.2,1901.9 L487.5,1943.6 L488.8,1922.3 L490.0,1940.0 L491.2,1909.6 L492.5,1928.1 L493.8,1911.4 L495.0,1913.3 L496.2,1899.7 L497.5,1903.2 L498.8,1888.0 L500.0,1885.3 L501.2,1875.9 L502.5,1869.0 L503.8,1854.1 L505.0,1841.0 L506.2,1813.1 L507.5,1780.0 L508.8,1724.6 L510.0,1674.2 L511.2,1620.8 L512.5,1568.8 L513.8,1543.7 L515.0,1533.1 L516.2,1529.0 L517.5,1531.7 L518.8,1529.3 L520.0,1533.2 L521.2,1525.5 L522.5,1532.9 L523.8,1521.0 L525.0,1534.8 L526.2,1509.4 L527.5,1519.6 L528.8,1496.7 L530.0,1513.1 L531.2,1487.7 L532.5,1509.2 L533.8,1494.3 L535.0,1503.5 L536.2,1502.0 L537.5,1511.1 L538.8,1512.8 L540.0,1524.3 L541.2,1540.1 L542.5,1570.1 L543.8,1600.7 L545.0,1655.5 L546.2,1698.5 L547.5,1771.3 L548.8,1796.7 L550.0,1832.3 L551.2,1814.5 L552.5,1816.7 L553.8,1751.7 L555.0,1720.5 L556.2,1654.1 L557.5,1604.1 L558.8,1551.2 L560.0,1533.2 L561.2,1515.2 L562.5,1513.9 L563.8,1504.0 L565.0,1511.0 L566.2,1504.8 L567.5,1520.1 L568.8,1520.8 L570.0,1536.0 L571.2,1553.9 L572.5,1589.6 L573.8,1639.0 L575.0,1698.2 L576.2,1753.7 L577.5,1807.9 L578.8,1846.8 L580.0,1874.9 L581.2,1888.7 L582.5,1895.0 L583.8,1890.8 L585.0,1899.1 L586.2,1883.5 L587.5,1887.4 L588.8,1872.7 L590.0,1879.6 L591.2,1866.6 L592.5,1890.0 L593.8,1867.4 L595.0,1884.2 L596.2,1865.3 L597.5,1876.5 L598.8,1861.3 L600.0,1876.0 L601.2,1866.9 L602.5,1885.0 L603.8,1876.8 L605.0,1897.8 L606.2,1889.2 L607.5,1909.0 L608.8,1898.4 L610.0,1918.6 L611.2,1910.1 L612.5,1928.0 L613.8,1918.4 L615.0,1926.6 L616.2,1923.3 L617.5,1918.6 L618.8,1908.2 L620.0,1892.9 L621.2,1859.2 L622.5,1806.8 L623.8,1753.1 L625.0,1702.0 L626.2,1623.2 L627.5,1571.1 L628.8,1536.5 L630.0,1520.4 L631.2,1511.5 L632.5,1512.1 L633.8,1505.0 L635.0,1507.1 L636.2,1496.8 L637.5,1506.9 L638.8,1495.2 L640.0,1507.1 L641.2,1491.1 L642.5,1508.3 L643.8,1504.4 L645.0,1523.3 L646.2,1504.1 L647.5,1520.7 L648.8,1500.3 L650.0,1522.3 L651.2,1495.0 L652.5,1517.3 L653.8,1508.6 L655.0,1522.6 L656.2,1505.5 L657.5,1516.1 L658.8,1491.3 L660.0,1523.0 L661.2,1496.5 L662.5,1519.6 L663.8,1505.1 L665.0,1514.9 L666.2,1505.4 L667.5,1515.6 L668.8,1501.3 L670.0,1511.4 L671.2,1508.4 L672.5,1514.2 L673.8,1517.6 L675.0,1535.8 L676.2,1555.3 L677.5,1602.0 L678.8,1653.2 L680.0,1713.6 L681.2,1748.4 L682.5,1781.7 L683.8,1811.9 L685.0,1848.2 L686.2,1847.4 L687.5,1838.5 L688.8,1810.1 L690.0,1790.7 L691.2,1762.6 L692.5,1743.1 L693.8,1706.4 L695.0,1666.2 L696.2,1615.0 L697.5,1584.8 L698.8,1558.8 L700.0,1539.2 L701.2,1529.4 L702.5,1526.5 L703.8,1518.8 L705.0,1526.8 L706.2,1521.1 L707.5,1531.6 L708.8,1524.3 L710.0,1529.8 L711.2,1514.2 L712.5,1530.2 L713.8,1507.5 L715.0,1525.7 L716.2,1502.0 L717.5,1507.7 L718.8,1490.9 L720.0,1500.1 L721.2,1488.4 L722.5,1489.6 L723.8,1484.4 L725.0,1494.7 L726.2,1510.7 L727.5,1553.8 L728.8,1596.8 L730.0,1640.2 L731.2,1676.4 L732.5,1712.7 L733.8,1734.5 L735.0,1743.9 L736.2,1748.7 L737.5,1763.7 L738.8,1765.4 L740.0,1783.1 L741.2,1781.4 L742.5,1795.0 L743.8,1794.6 L745.0,1801.6 L746.2,1787.8 L747.5,1785.0 L748.8,1763.6 L750.0,1744.0 L751.2,1718.2 L752.5,1666.4 L753.8,1606.0 L755.0,1571.7 L756.2,1548.9 L757.5,1538.6 L758.8,1523.8 L760.0,1521.1 L761.2,1511.1 L762.5,1513.4 L763.8,1497.4 L765.0,1507.3 L766.2,1490.5 L767.5,1501.6 L768.8,1495.1 L770.0,1511.3 L771.2,1504.2 L772.5,1519.4 L773.8,1491.1 L775.0,1516.4 L776.2,1497.0 L777.5,1507.7 L778.8,1484.0 L780.0,1507.0 L781.2,1470.6 L782.5,1502.5 L783.8,1466.2 L785.0,1492.6 L786.2,1487.3 L787.5,1506.2 L788.8,1496.7 L790.0,1531.7 L791.2,1518.1 L792.5,1540.2 L793.8,1516.2 L795.0,1528.0 L796.2,1506.6 L797.5,1516.4 L798.8,1503.5 L800.0,1513.6 L801.2,1502.2 L802.5,1526.2 L803.8,1496.4 L805.0,1517.3 L806.2,1498.3 L807.5,1516.8 L808.8,1500.3 L810.0,1523.4 L811.2,1506.2 L812.5,1523.8 L813.8,1503.9 L815.0,1536.1 L816.2,1526.8 L817.5,1543.7 L818.8,1540.8 L820.0,1559.8 L821.2,1541.9 L822.5,1564.6 L823.8,1533.0 L825.0,1547.8 L826.2,1524.5 L827.5,1538.0 L828.8,1522.0 L830.0,1535.5 L831.2,1496.9 L832.5,1504.9 L833.8,1476.0 L835.0,1495.3 L836.2,1483.0 L837.5,1523.5 L838.8,1518.0 L840.0,1535.6 L841.2,1532.6 L842.5,1544.4 L843.8,1546.4 L845.0,1552.6 L846.2,1554.2 L847.5,1562.0 L848.8,1570.3 L850.0,1585.6 L851.2,1606.4 L852.5,1637.6 L853.8,1675.9 L855.0,1740.0 L856.2,1783.6 L857.5,1810.3 L858.8,1832.0 L860.0,1849.3 L861.2,1859.4 L862.5,1875.2 L863.8,1862.0 L865.0,1873.5 L866.2,1863.5 L867.5,1869.3 L868.8,1855.3 L870.0,1863.6 L871.2,1854.6 L872.5,1856.8 L873.8,1846.8 L875.0,1829.1 L876.2,1800.8 L877.5,1775.2 L878.8,1744.7 L880.0,1720.9 L881.2,1685.5 L882.5,1646.1 L883.8,1614.9 L885.0,1587.9 L886.2,1560.7 L887.5,1546.8 L888.8,1529.0 L890.0,1521.8 L891.2,1513.0 L892.5,1513.6 L893.8,1499.4 L895.0,1506.5 L896.2,1491.6 L897.5,1506.2 L898.8,1489.8 L900.0,1503.2 L901.2,1488.5 L902.5,1503.9 L903.8,1488.0 L905.0,1501.8 L906.2,1478.9 L907.5,1498.8 L908.8,1485.2 L910.0,1499.7 L911.2,1478.1 L912.5,1506.4 L913.8,1480.7 L915.0,1500.0 L916.2,1479.9 L917.5,1506.2 L918.8,1483.5 L920.0,1494.6 L921.2,1476.3 L922.5,1509.2 L923.8,1474.2 L925.0,1497.8 L926.2,1471.0 L927.5,1493.2 L928.8,1478.5 L930.0,1490.0 L931.2,1474.8 L932.5,1502.8 L933.8,1481.2 L935.0,1504.3 L936.2,1484.7 L937.5,1500.7 L938.8,1485.3 L940.0,1509.9 L941.2,1490.7 L942.5,1526.9 L943.8,1503.5 L945.0,1530.8 L946.2,1515.9 L947.5,1525.9 L948.8,1505.2 L950.0,1524.3 L951.2,1507.1 L952.5,1526.2 L953.8,1512.4 L955.0,1525.1 L956.2,1517.5 L957.5,1522.5 L958.8,1517.2 L960.0,1534.4 L961.2,1526.2 L962.5,1558.6 L963.8,1568.9 L965.0,1606.1 L966.2,1618.9 L967.5,1655.6 L968.8,1664.3 L970.0,1687.8 L971.2,1649.3 L972.5,1624.9 L973.8,1579.9 L975.0,1564.2 L976.2,1529.3 L977.5,1531.8 L978.8,1516.5 L980.0,1519.9 L981.2,1516.2 L982.5,1531.7 L983.8,1532.9 L985.0,1539.4 L986.2,1520.0 L987.5,1538.5 L988.8,1508.3 L990.0,1524.6 L991.2,1492.7 L992.5,1501.8 L993.8,1468.8 L995.0,1497.4 L996.2,1481.3 L997.5,1498.6 L998.8,1494.1 L1000.0,1513.6 L1001.2,1504.7 L1002.5,1528.2 L1003.8,1523.4 L1005.0,1542.4 L1006.2,1529.3 L1007.5,1550.9 L1008.8,1528.4 L1010.0,1547.8 L1011.2,1526.7 L1012.5,1554.2 L1013.8,1522.9 L1015.0,1550.4 L1016.2,1513.6 L1017.5,1539.6 L1018.8,1528.0 L1020.0,1549.2 L1021.2,1530.9 L1022.5,1549.3 L1023.8,1528.8 L1025.0,1539.1 L1026.2,1526.4 L1027.5,1527.0 L1028.8,1514.5 L1030.0,1520.8 L1031.2,1513.9 L1032.5,1515.6 L1033.8,1523.7 L1035.0,1544.6 L1036.2,1577.1 L1037.5,1627.2 L1038.8,1686.7 L1040.0,1749.9 L1041.2,1793.7 L1042.5,1832.0 L1043.8,1850.4 L1045.0,1874.2 L1046.2,1886.4 L1047.5,1894.6 L1048.8,1899.2 L1050.0,1909.6 L1051.2,1906.6 L1052.5,1916.5 L1053.8,1910.7 L1055.0,1924.4 L1056.2,1920.0 L1057.5,1930.9 L1058.8,1922.4 L1060.0,1938.3 L1061.2,1938.8 L1062.5,1941.9 L1063.8,1924.4 L1065.0,1915.1 L1066.2,1897.3 L1067.5,1884.5 L1068.8,1839.4 L1070.0,1797.3 L1071.2,1749.5 L1072.5,1730.9 L1073.8,1645.3 L1075.0,1593.7 L1076.2,1557.4 L1077.5,1539.1 L1078.8,1523.4 L1080.0,1521.5 L1081.2,1513.2 L1082.5,1520.2 L1083.8,1508.6 L1085.0,1517.8 L1086.2,1496.4 L1087.5,1509.4 L1088.8,1500.4 L1090.0,1510.6 L1091.2,1500.5 L1092.5,1515.7 L1093.8,1504.4 L1095.0,1532.9 L1096.2,1507.9 L1097.5,1536.0 L1098.8,1525.9 L1100.0,1549.6 L1101.2,1543.3 L1102.5,1561.9 L1103.8,1554.0 L1105.0,1576.0 L1106.2,1544.8 L1107.5,1560.3 L1108.8,1538.8 L1110.0,1538.5 L1111.2,1513.4 L1112.5,1525.1 L1113.8,1499.5 L1115.0,1504.2 L1116.2,1478.5 L1117.5,1498.2 L1118.8,1481.8 L1120.0,1494.3 L1121.2,1483.6 L1122.5,1500.0 L1123.8,1480.5 L1125.0,1492.8 L1126.2,1471.8 L1127.5,1498.2 L1128.8,1473.8 L1130.0,1497.2 L1131.2,1485.2 L1132.5,1519.0 L1133.8,1499.5 L1135.0,1529.2 L1136.2,1509.0 L1137.5,1540.8 L1138.8,1513.6 L1140.0,1534.9 L1141.2,1526.5 L1142.5,1539.3 L1143.8,1519.6 L1145.0,1541.4 L1146.2,1512.9 L1147.5,1536.9 L1148.8,1526.4 L1150.0,1549.9 L1151.2,1512.6 L1152.5,1549.9 L1153.8,1518.1 L1155.0,1536.2" fill="none" stroke="#800080" stroke-width="7" stroke-linejoin="round" clip-path="url(#cc)"/>
<path d="M1597.3,2152.4 L1598.5,2075.4 L1603.1,2062.6 L1607.8,2062.6 L1610.1,2096.4 L1613.6,2152.4 L1616.0,2152.4 L1619.5,2082.4 L1620.2,2059.1 L1628.8,2042.8 L1634.6,2017.1 L1641.6,1958.8 L1647.4,2073.1 L1654.4,2028.8 L1662.6,2028.8 L1669.6,2049.8 L1676.6,1986.8 L1681.7,1858.6 L1688.2,1921.5 L1695.2,1956.5 L1703.4,1970.5 L1713.9,1935.5 L1725.6,1902.9 L1730.9,2000.8 L1736.5,1895.9 L1745.4,1916.9 L1758.2,2013.6 L1763.6,1871.4 L1771.0,1916.9 L1780.4,1930.8 L1785.7,1881.9 L1793.2,1989.1 L1804.4,1860.9 L1814.2,1870.2 L1820.0,1849.2 L1825.8,1814.3 L1835.1,1797.9 L1841.4,1853.9 L1852.1,1742.7 L1860.3,1703.1 L1869.6,1710.1 L1874.3,1663.5 L1880.1,1602.8 L1887.1,1635.5 L1897.6,1630.8 L1904.6,1586.5 L1913.9,1560.9 L1923.2,1539.9 L1931.4,1509.6 L1938.4,1521.2 L1943.0,1469.9 L1950.0,1453.6 L1958.2,1467.6 L1967.5,1453.6 L1975.7,1442.0 L1983.8,1422.2 L1990.8,1446.6 L1997.8,1458.3 L2004.8,1435.0 L2010.7,1460.6 L2018.8,1476.9 L2025.8,1474.6 L2035.1,1497.9 L2048.0,1511.9 L2051.5,1563.2 L2056.1,1598.2 L2063.1,1600.5 L2072.5,1609.8 L2080.6,1686.8 L2087.6,1614.5 L2095.8,1679.8 L2100.4,1700.8 L2109.8,1703.1 L2114.4,1763.7 L2123.8,1796.4 L2129.2,1839.9 L2135.1,1860.9 L2142.1,1879.5 L2144.4,1870.2 L2151.4,1858.6 L2158.4,1832.9 L2164.2,1886.5 L2170.7,1949.5 L2177.7,1893.5 L2184.0,1947.2 L2191.0,1956.5 L2196.9,1978.6 L2205.7,1978.6 L2211.3,1942.5 L2219.7,1976.3 L2224.8,1877.2 L2231.4,1956.5 L2240.0,1970.5 L2245.8,1876.0 L2252.3,1963.5 L2259.8,1911.0 L2268.0,1972.8 L2273.3,1860.9 L2280.8,1860.9 L2289.0,1866.7 L2296.0,1944.8 L2302.2,2035.8 L2308.3,2003.1 L2313.9,1926.2 L2321.6,1936.7 L2329.8,1936.7 L2335.6,2012.5 L2342.6,2042.8 L2348.4,2152.4 L2350.8,2152.4 L2354.2,2017.1 L2358.2,2017.1 L2362.4,2152.4 L2364.7,2152.4 L2375.2,2152.4 L2376.4,2126.7 L2378.7,2152.4" fill="none" stroke="#800080" stroke-width="5.8" stroke-linejoin="miter" stroke-miterlimit="10" clip-path="url(#cd)"/>
<path d="M1629.0,960.0 L1630.0,932.0 L1631.0,960.0 L1658.0,960.0 L1660.0,960.0 L1662.2,853.7 L1664.3,960.0 L1666.5,772.7 L1668.6,960.0 L1670.8,960.0 L1672.9,960.0 L1675.1,810.2 L1677.2,960.0 L1679.4,772.5 L1681.5,960.0 L1683.7,755.4 L1685.8,960.0 L1688.0,1049.2 L1690.1,960.0 L1692.3,853.7 L1694.4,960.0 L1696.6,878.2 L1698.7,960.0 L1700.9,853.7 L1703.0,755.4 L1705.2,755.4 L1707.3,705.0 L1709.5,853.7 L1711.6,831.1 L1713.8,647.5 L1715.9,739.3 L1718.1,755.4 L1720.2,810.2 L1722.4,709.6 L1724.5,682.7 L1726.7,724.1 L1728.8,709.6 L1731.0,772.5 L1733.1,739.3 L1735.3,724.1 L1737.4,772.5 L1739.6,620.7 L1741.7,853.7 L1743.9,695.9 L1746.0,682.7 L1748.2,635.6 L1750.3,626.6 L1752.5,772.0 L1754.6,618.4 L1756.8,670.2 L1758.9,635.6 L1761.1,605.8 L1763.2,739.3 L1765.4,670.2 L1767.5,682.7 L1769.7,588.8 L1771.8,584.5 L1774.0,658.2 L1776.1,604.8 L1778.3,670.2 L1780.4,525.0 L1782.6,562.7 L1784.7,709.6 L1786.9,553.9 L1789.0,604.8 L1791.2,560.0 L1793.3,540.5 L1795.5,658.2 L1797.6,560.0 L1799.8,634.0 L1801.9,560.0 L1804.1,517.8 L1806.2,513.2 L1808.4,508.6 L1810.5,536.1 L1812.7,598.5 L1814.8,494.7 L1817.0,500.4 L1819.1,500.4 L1821.3,438.0 L1823.4,480.9 L1825.6,471.2 L1827.7,466.4 L1829.9,461.7 L1832.0,456.9 L1834.2,452.2 L1836.3,434.8 L1838.5,451.2 L1840.6,440.1 L1842.8,368.0 L1844.9,445.6 L1847.1,409.3 L1849.2,335.9 L1851.4,386.0 L1853.5,419.2 L1855.7,360.4 L1857.8,451.2 L1860.0,377.2 L1862.1,324.7 L1864.3,364.5 L1866.4,377.2 L1868.6,344.5 L1870.7,372.9 L1872.9,329.4 L1875.0,356.3 L1877.2,429.0 L1879.3,329.4 L1881.5,308.3 L1883.6,298.2 L1885.8,340.6 L1887.9,356.3 L1890.1,318.6 L1892.2,364.5 L1894.4,308.3 L1896.5,360.4 L1898.7,301.5 L1900.8,315.1 L1903.0,336.8 L1905.1,285.4 L1907.3,267.2 L1909.4,380.0 L1911.6,304.9 L1913.7,252.9 L1915.9,340.6 L1918.0,270.2 L1920.2,333.1 L1922.3,270.2 L1924.5,304.9 L1926.6,322.2 L1928.8,204.5 L1930.9,261.4 L1933.1,276.2 L1935.2,255.7 L1937.4,291.8 L1939.5,211.4 L1941.7,273.2 L1943.8,255.7 L1946.0,250.1 L1948.1,228.8 L1950.3,252.9 L1952.4,236.6 L1954.6,273.2 L1956.7,234.0 L1958.9,295.0 L1961.0,267.2 L1963.2,250.1 L1965.3,273.2 L1967.5,264.3 L1969.6,258.5 L1971.8,197.9 L1973.9,285.4 L1976.1,250.1 L1978.2,261.4 L1980.4,295.8 L1982.5,192.0 L1984.7,276.2 L1986.8,197.3 L1989.0,223.7 L1991.1,191.2 L1993.3,301.5 L1995.4,247.4 L1997.6,285.4 L1999.7,313.6 L2001.9,276.2 L2004.0,295.0 L2006.2,264.3 L2008.3,255.7 L2010.5,223.7 L2012.6,322.5 L2014.8,301.5 L2016.9,276.2 L2019.1,211.4 L2021.2,228.8 L2023.4,226.3 L2025.5,273.2 L2027.7,304.9 L2029.8,279.2 L2032.0,322.2 L2034.1,276.2 L2036.3,279.2 L2038.4,218.7 L2040.6,304.9 L2042.7,308.3 L2044.9,376.0 L2047.0,329.4 L2049.2,288.6 L2051.3,250.1 L2053.5,238.0 L2055.6,322.2 L2057.8,279.2 L2059.9,318.6 L2062.1,273.2 L2064.2,229.0 L2066.4,301.5 L2068.5,344.5 L2070.7,295.0 L2072.8,318.6 L2075.0,295.0 L2077.1,402.6 L2079.3,276.2 L2081.4,333.1 L2083.6,325.8 L2085.7,360.4 L2087.9,295.0 L2090.0,348.3 L2092.2,340.6 L2094.3,381.6 L2096.5,311.7 L2098.6,377.2 L2100.8,318.6 L2102.9,434.8 L2105.1,329.2 L2107.2,360.4 L2109.4,356.3 L2111.5,419.2 L2113.7,476.0 L2115.8,440.1 L2118.0,348.3 L2120.1,414.2 L2122.3,357.7 L2124.4,399.8 L2126.6,404.5 L2128.7,372.9 L2130.9,414.2 L2133.0,381.7 L2135.2,451.5 L2137.3,362.6 L2139.5,480.9 L2141.6,465.8 L2143.8,474.7 L2145.9,475.2 L2148.1,500.4 L2150.2,514.1 L2152.4,489.3 L2154.5,521.3 L2156.7,498.7 L2158.8,503.3 L2161.0,462.7 L2163.1,512.5 L2165.3,517.1 L2167.4,577.1 L2169.6,543.8 L2171.7,632.0 L2173.9,535.3 L2176.0,551.8 L2178.2,544.3 L2180.3,595.3 L2182.5,595.3 L2184.6,614.7 L2186.8,562.1 L2188.9,595.3 L2191.1,507.2 L2193.2,575.2 L2195.4,670.2 L2197.5,614.7 L2199.7,734.0 L2201.8,646.7 L2204.0,635.6 L2206.1,601.0 L2208.3,695.9 L2210.4,598.5 L2212.6,613.6 L2214.7,682.7 L2216.9,658.2 L2219.0,739.3 L2221.2,634.0 L2223.3,755.4 L2225.5,770.0 L2227.6,739.3 L2229.8,755.4 L2231.9,790.7 L2234.1,670.2 L2236.2,810.2 L2238.4,790.7 L2240.5,672.0 L2242.7,755.4 L2244.8,810.2 L2247.0,905.1 L2249.1,934.8 L2251.3,1100.6 L2253.4,790.7 L2255.6,810.2 L2257.7,878.2 L2259.9,755.4 L2262.0,960.0 L2264.2,934.8 L2266.3,658.6 L2268.5,831.1 L2270.6,960.0 L2272.8,960.0 L2274.9,960.0 L2277.1,960.0 L2279.2,960.0 L2281.4,852.0 L2283.5,960.0 L2285.7,878.2 L2287.8,960.0 L2290.0,755.4 L2292.1,960.0 L2294.3,960.0 L2296.4,960.0 L2298.6,1100.6 L2302.0,960.0 L2320.0,960.0 L2324.8,870.0 L2329.0,960.0" fill="none" stroke="#800080" stroke-width="4.6" stroke-linejoin="miter" stroke-miterlimit="4" clip-path="url(#cb)"/>
<path d="M1660.0,1034.7 L1662.0,1030.2 L1664.0,1025.5 L1666.0,1020.5 L1668.0,1015.2 L1670.0,1009.8 L1672.0,1004.1 L1674.0,998.2 L1676.0,992.2 L1678.0,985.9 L1680.0,979.5 L1682.0,972.9 L1684.0,966.1 L1686.0,959.2 L1688.0,952.1 L1690.0,945.0 L1692.0,937.6 L1694.0,930.2 L1696.0,922.7 L1698.0,915.1 L1700.0,907.3 L1702.0,899.5 L1704.0,891.7 L1706.0,883.7 L1708.0,875.7 L1710.0,867.6 L1712.0,859.5 L1714.0,851.3 L1716.0,843.1 L1718.0,834.8 L1720.0,826.6 L1722.0,818.3 L1724.0,810.0 L1726.0,801.6 L1728.0,793.3 L1730.0,785.0 L1732.0,776.6 L1734.0,768.3 L1736.0,760.0 L1738.0,751.7 L1740.0,743.4 L1742.0,735.1 L1744.0,726.9 L1746.0,718.7 L1748.0,710.5 L1750.0,702.4 L1752.0,694.3 L1754.0,686.3 L1756.0,678.3 L1758.0,670.3 L1760.0,662.4 L1762.0,654.6 L1764.0,646.8 L1766.0,639.0 L1768.0,631.4 L1770.0,623.8 L1772.0,616.2 L1774.0,608.7 L1776.0,601.3 L1778.0,594.0 L1780.0,586.7 L1782.0,579.6 L1784.0,572.4 L1786.0,565.4 L1788.0,558.4 L1790.0,551.6 L1792.0,544.8 L1794.0,538.0 L1796.0,531.4 L1798.0,524.9 L1800.0,518.4 L1802.0,512.0 L1804.0,505.7 L1806.0,499.5 L1808.0,493.4 L1810.0,487.3 L1812.0,481.4 L1814.0,475.5 L1816.0,469.7 L1818.0,464.0 L1820.0,458.4 L1822.0,452.9 L1824.0,447.5 L1826.0,442.1 L1828.0,436.9 L1830.0,431.7 L1832.0,426.6 L1834.0,421.6 L1836.0,416.7 L1838.0,411.9 L1840.0,407.2 L1842.0,402.6 L1844.0,398.0 L1846.0,393.5 L1848.0,389.1 L1850.0,384.8 L1852.0,380.6 L1854.0,376.5 L1856.0,372.5 L1858.0,368.5 L1860.0,364.6 L1862.0,360.8 L1864.0,357.1 L1866.0,353.5 L1868.0,349.9 L1870.0,346.4 L1872.0,343.0 L1874.0,339.7 L1876.0,336.4 L1878.0,333.3 L1880.0,330.2 L1882.0,327.2 L1884.0,324.2 L1886.0,321.4 L1888.0,318.6 L1890.0,315.8 L1892.0,313.2 L1894.0,310.6 L1896.0,308.1 L1898.0,305.6 L1900.0,303.3 L1902.0,300.9 L1904.0,298.7 L1906.0,296.5 L1908.0,294.4 L1910.0,292.4 L1912.0,290.4 L1914.0,288.5 L1916.0,286.6 L1918.0,284.8 L1920.0,283.1 L1922.0,281.4 L1924.0,279.8 L1926.0,278.3 L1928.0,276.8 L1930.0,275.3 L1932.0,273.9 L1934.0,272.6 L1936.0,271.4 L1938.0,270.2 L1940.0,269.0 L1942.0,267.9 L1944.0,266.9 L1946.0,265.9 L1948.0,264.9 L1950.0,264.1 L1952.0,263.2 L1954.0,262.5 L1956.0,261.7 L1958.0,261.1 L1960.0,260.5 L1962.0,259.9 L1964.0,259.4 L1966.0,258.9 L1968.0,258.5 L1970.0,258.1 L1972.0,257.8 L1974.0,257.5 L1976.0,257.3 L1978.0,257.2 L1980.0,257.0 L1982.0,257.0 L1984.0,257.0 L1986.0,257.0 L1988.0,257.1 L1990.0,257.2 L1992.0,257.4 L1994.0,257.6 L1996.0,257.9 L1998.0,258.2 L2000.0,258.6 L2002.0,259.0 L2004.0,259.5 L2006.0,260.0 L2008.0,260.6 L2010.0,261.3 L2012.0,262.0 L2014.0,262.7 L2016.0,263.5 L2018.0,264.3 L2020.0,265.2 L2022.0,266.2 L2024.0,267.2 L2026.0,268.2 L2028.0,269.3 L2030.0,270.5 L2032.0,271.7 L2034.0,273.0 L2036.0,274.4 L2038.0,275.8 L2040.0,277.2 L2042.0,278.7 L2044.0,280.3 L2046.0,281.9 L2048.0,283.6 L2050.0,285.4 L2052.0,287.2 L2054.0,289.0 L2056.0,291.0 L2058.0,293.0 L2060.0,295.0 L2062.0,297.2 L2064.0,299.4 L2066.0,301.6 L2068.0,304.0 L2070.0,306.4 L2072.0,308.8 L2074.0,311.4 L2076.0,314.0 L2078.0,316.6 L2080.0,319.4 L2082.0,322.2 L2084.0,325.1 L2086.0,328.1 L2088.0,331.1 L2090.0,334.2 L2092.0,337.4 L2094.0,340.7 L2096.0,344.0 L2098.0,347.5 L2100.0,351.0 L2102.0,354.5 L2104.0,358.2 L2106.0,361.9 L2108.0,365.8 L2110.0,369.7 L2112.0,373.7 L2114.0,377.7 L2116.0,381.9 L2118.0,386.1 L2120.0,390.5 L2122.0,394.9 L2124.0,399.4 L2126.0,403.9 L2128.0,408.6 L2130.0,413.4 L2132.0,418.2 L2134.0,423.1 L2136.0,428.1 L2138.0,433.2 L2140.0,438.4 L2142.0,443.7 L2144.0,449.1 L2146.0,454.5 L2148.0,460.1 L2150.0,465.7 L2152.0,471.4 L2154.0,477.2 L2156.0,483.1 L2158.0,489.1 L2160.0,495.2 L2162.0,501.3 L2164.0,507.6 L2166.0,513.9 L2168.0,520.3 L2170.0,526.8 L2172.0,533.4 L2174.0,540.0 L2176.0,546.8 L2178.0,553.6 L2180.0,560.5 L2182.0,567.5 L2184.0,574.6 L2186.0,581.7 L2188.0,588.9 L2190.0,596.2 L2192.0,603.6 L2194.0,611.0 L2196.0,618.5 L2198.0,626.0 L2200.0,633.7 L2202.0,641.4 L2204.0,649.1 L2206.0,656.9 L2208.0,664.8 L2210.0,672.7 L2212.0,680.7 L2214.0,688.7 L2216.0,696.7 L2218.0,704.9 L2220.0,713.0 L2222.0,721.2 L2224.0,729.4 L2226.0,737.6 L2228.0,745.9 L2230.0,754.2 L2232.0,762.5 L2234.0,770.8 L2236.0,779.1 L2238.0,787.5 L2240.0,795.8 L2242.0,804.1 L2244.0,812.5 L2246.0,820.8 L2248.0,829.1 L2250.0,837.3 L2252.0,845.6 L2254.0,853.8 L2256.0,861.9 L2258.0,870.0 L2260.0,878.1 L2262.0,886.1 L2264.0,894.0 L2266.0,901.9 L2268.0,909.7 L2270.0,917.4 L2272.0,925.0 L2274.0,932.5 L2276.0,939.8 L2278.0,947.1 L2280.0,954.3 L2282.0,961.3 L2284.0,968.1 L2286.0,974.9 L2288.0,981.4 L2290.0,987.8 L2292.0,994.0 L2294.0,1000.0 L2296.0,1005.8 L2298.0,1011.5 L2300.0,1016.8 L2302.0,1022.0 L2304.0,1026.9 L2306.0,1031.6 L2308.0,1036.0 L2310.0,1040.1" fill="none" stroke="#ff0000" stroke-width="6.6" stroke-linejoin="round" stroke-miterlimit="4" clip-path="url(#cb)"/>
<path d="M1550.0,961.2 L1552.0,958.7 L1554.0,956.2 L1556.0,953.7 L1558.0,951.2 L1560.0,948.6 L1562.0,946.1 L1564.0,943.6 L1566.0,941.0 L1568.0,938.4 L1570.0,935.8 L1572.0,933.3 L1574.0,930.7 L1576.0,928.1 L1578.0,925.4 L1580.0,922.8 L1582.0,920.2 L1584.0,917.5 L1586.0,914.8 L1588.0,912.2 L1590.0,909.5 L1592.0,906.8 L1594.0,904.1 L1596.0,901.4 L1598.0,898.7 L1600.0,895.9 L1602.0,893.2 L1604.0,890.4 L1606.0,887.6 L1608.0,884.8 L1610.0,882.0 L1612.0,879.2 L1614.0,876.4 L1616.0,873.6 L1618.0,870.7 L1620.0,867.9 L1622.0,865.0 L1624.0,862.1 L1626.0,859.3 L1628.0,856.4 L1630.0,853.4 L1632.0,850.5 L1634.0,847.6 L1636.0,844.6 L1638.0,841.6 L1640.0,838.7 L1642.0,835.7 L1644.0,832.7 L1646.0,829.7 L1648.0,826.6 L1650.0,823.6 L1652.0,820.5 L1654.0,817.5 L1656.0,814.4 L1658.0,811.3 L1660.0,808.2 L1662.0,805.0 L1664.0,801.9 L1666.0,798.7 L1668.0,795.6 L1670.0,792.4 L1672.0,789.2 L1674.0,786.0 L1676.0,782.8 L1678.0,779.5 L1680.0,776.3 L1682.0,773.0 L1684.0,769.7 L1686.0,766.4 L1688.0,763.1 L1690.0,759.8 L1692.0,756.4 L1694.0,753.1 L1696.0,749.7 L1698.0,746.3 L1700.0,742.9 L1702.0,739.5 L1704.0,736.1 L1706.0,732.6 L1708.0,729.1 L1710.0,725.6 L1712.0,722.2 L1714.0,718.6 L1716.0,715.1 L1718.0,711.6 L1720.0,708.0 L1722.0,704.4 L1724.0,700.8 L1726.0,697.2 L1728.0,693.6 L1730.0,689.9 L1732.0,686.3 L1734.0,682.6 L1736.0,678.9 L1738.0,675.2 L1740.0,671.5 L1742.0,667.7 L1744.0,664.0 L1746.0,660.2 L1748.0,656.4 L1750.0,652.6 L1752.0,648.7 L1754.0,644.9 L1756.0,641.0 L1758.0,637.2 L1760.0,633.3 L1762.0,629.3 L1764.0,625.4 L1766.0,621.5 L1768.0,617.5 L1770.0,613.5 L1772.0,609.5 L1774.0,605.5 L1776.0,601.5 L1778.0,597.4 L1780.0,593.3 L1782.0,589.3 L1784.0,585.2 L1786.0,581.1 L1788.0,576.9 L1790.0,572.8 L1792.0,568.6 L1794.0,564.4 L1796.0,560.2 L1798.0,556.0 L1800.0,551.8 L1802.0,547.6 L1804.0,543.3 L1806.0,539.0 L1808.0,534.8 L1810.0,530.5 L1812.0,526.1 L1814.0,521.8 L1816.0,517.5 L1818.0,513.1 L1820.0,508.8 L1822.0,504.4 L1824.0,500.0 L1826.0,495.6 L1828.0,491.2 L1830.0,486.8 L1832.0,482.4 L1834.0,477.9 L1836.0,473.5 L1838.0,469.0 L1840.0,464.6 L1842.0,460.1 L1844.0,455.7 L1846.0,451.2 L1848.0,446.7 L1850.0,442.2 L1852.0,437.8 L1854.0,433.3 L1856.0,428.8 L1858.0,424.3 L1860.0,419.9 L1862.0,415.4 L1864.0,410.9 L1866.0,406.5 L1868.0,402.0 L1870.0,397.6 L1872.0,393.1 L1874.0,388.7 L1876.0,384.3 L1878.0,379.9 L1880.0,375.5 L1882.0,371.2 L1884.0,366.9 L1886.0,362.5 L1888.0,358.2 L1890.0,354.0 L1892.0,349.8 L1894.0,345.5 L1896.0,341.4 L1898.0,337.2 L1900.0,333.1 L1902.0,329.1 L1904.0,325.1 L1906.0,321.1 L1908.0,317.2 L1910.0,313.3 L1912.0,309.5 L1914.0,305.7 L1916.0,302.0 L1918.0,298.3 L1920.0,294.7 L1922.0,291.2 L1924.0,287.8 L1926.0,284.4 L1928.0,281.1 L1930.0,277.9 L1932.0,274.7 L1934.0,271.7 L1936.0,268.7 L1938.0,265.8 L1940.0,263.0 L1942.0,260.3 L1944.0,257.7 L1946.0,255.3 L1948.0,252.9 L1950.0,250.6 L1952.0,248.4 L1954.0,246.4 L1956.0,244.4 L1958.0,242.6 L1960.0,240.9 L1962.0,239.3 L1964.0,237.9 L1966.0,236.5 L1968.0,235.3 L1970.0,234.3 L1972.0,233.3 L1974.0,232.5 L1976.0,231.8 L1978.0,231.3 L1980.0,230.9 L1982.0,230.6 L1984.0,230.5 L1986.0,230.5 L1988.0,230.6 L1990.0,230.9 L1992.0,231.3 L1994.0,231.8 L1996.0,232.5 L1998.0,233.3 L2000.0,234.3 L2002.0,235.3 L2004.0,236.5 L2006.0,237.9 L2008.0,239.3 L2010.0,240.9 L2012.0,242.6 L2014.0,244.4 L2016.0,246.4 L2018.0,248.4 L2020.0,250.6 L2022.0,252.9 L2024.0,255.3 L2026.0,257.7 L2028.0,260.3 L2030.0,263.0 L2032.0,265.8 L2034.0,268.7 L2036.0,271.7 L2038.0,274.7 L2040.0,277.9 L2042.0,281.1 L2044.0,284.4 L2046.0,287.8 L2048.0,291.2 L2050.0,294.7 L2052.0,298.3 L2054.0,302.0 L2056.0,305.7 L2058.0,309.5 L2060.0,313.3 L2062.0,317.2 L2064.0,321.1 L2066.0,325.1 L2068.0,329.1 L2070.0,333.1 L2072.0,337.2 L2074.0,341.4 L2076.0,345.5 L2078.0,349.8 L2080.0,354.0 L2082.0,358.2 L2084.0,362.5 L2086.0,366.9 L2088.0,371.2 L2090.0,375.5 L2092.0,379.9 L2094.0,384.3 L2096.0,388.7 L2098.0,393.1 L2100.0,397.6 L2102.0,402.0 L2104.0,406.5 L2106.0,410.9 L2108.0,415.4 L2110.0,419.9 L2112.0,424.3 L2114.0,428.8 L2116.0,433.3 L2118.0,437.8 L2120.0,442.2 L2122.0,446.7 L2124.0,451.2 L2126.0,455.7 L2128.0,460.1 L2130.0,464.6 L2132.0,469.0 L2134.0,473.5 L2136.0,477.9 L2138.0,482.4 L2140.0,486.8 L2142.0,491.2 L2144.0,495.6 L2146.0,500.0 L2148.0,504.4 L2150.0,508.8 L2152.0,513.1 L2154.0,517.5 L2156.0,521.8 L2158.0,526.1 L2160.0,530.5 L2162.0,534.8 L2164.0,539.0 L2166.0,543.3 L2168.0,547.6 L2170.0,551.8 L2172.0,556.0 L2174.0,560.2 L2176.0,564.4 L2178.0,568.6 L2180.0,572.8 L2182.0,576.9 L2184.0,581.1 L2186.0,585.2 L2188.0,589.3 L2190.0,593.3 L2192.0,597.4 L2194.0,601.5 L2196.0,605.5 L2198.0,609.5 L2200.0,613.5 L2202.0,617.5 L2204.0,621.5 L2206.0,625.4 L2208.0,629.3 L2210.0,633.3 L2212.0,637.2 L2214.0,641.0 L2216.0,644.9 L2218.0,648.7 L2220.0,652.6 L2222.0,656.4 L2224.0,660.2 L2226.0,664.0 L2228.0,667.7 L2230.0,671.5 L2232.0,675.2 L2234.0,678.9 L2236.0,682.6 L2238.0,686.3 L2240.0,689.9 L2242.0,693.6 L2244.0,697.2 L2246.0,700.8 L2248.0,704.4 L2250.0,708.0 L2252.0,711.6 L2254.0,715.1 L2256.0,718.6 L2258.0,722.2 L2260.0,725.6 L2262.0,729.1 L2264.0,732.6 L2266.0,736.1 L2268.0,739.5 L2270.0,742.9 L2272.0,746.3 L2274.0,749.7 L2276.0,753.1 L2278.0,756.4 L2280.0,759.8 L2282.0,763.1 L2284.0,766.4 L2286.0,769.7 L2288.0,773.0 L2290.0,776.3 L2292.0,779.5 L2294.0,782.8 L2296.0,786.0 L2298.0,789.2 L2300.0,792.4 L2302.0,795.6 L2304.0,798.7 L2306.0,801.9 L2308.0,805.0 L2310.0,808.2 L2312.0,811.3 L2314.0,814.4 L2316.0,817.5 L2318.0,820.5 L2320.0,823.6 L2322.0,826.6 L2324.0,829.7 L2326.0,832.7 L2328.0,835.7 L2330.0,838.7 L2332.0,841.6 L2334.0,844.6 L2336.0,847.6 L2338.0,850.5 L2340.0,853.4 L2342.0,856.4 L2344.0,859.3 L2346.0,862.1 L2348.0,865.0 L2350.0,867.9 L2352.0,870.7 L2354.0,873.6 L2356.0,876.4 L2358.0,879.2 L2360.0,882.0 L2362.0,884.8 L2364.0,887.6 L2366.0,890.4 L2368.0,893.2 L2370.0,895.9 L2372.0,898.7 L2374.0,901.4 L2376.0,904.1 L2378.0,906.8 L2380.0,909.5 L2382.0,912.2 L2384.0,914.8 L2386.0,917.5 L2388.0,920.2 L2390.0,922.8 L2392.0,925.4 L2394.0,928.1 L2396.0,930.7 L2398.0,933.3 L2400.0,935.8 L2402.0,938.4 L2404.0,941.0 L2406.0,943.6 L2408.0,946.1 L2410.0,948.6 L2412.0,951.2 L2414.0,953.7 L2416.0,956.2 L2418.0,958.7 L2420.0,961.2" fill="none" stroke="#0000ff" stroke-width="6.6" stroke-linejoin="round" stroke-miterlimit="4" clip-path="url(#cb)"/>
<path d="M1770.0,2243.1 L1772.0,2228.5 L1774.0,2213.9 L1776.0,2199.5 L1778.0,2185.2 L1780.0,2171.1 L1782.0,2157.1 L1784.0,2143.3 L1786.0,2129.5 L1788.0,2116.0 L1790.0,2102.5 L1792.0,2089.2 L1794.0,2076.0 L1796.0,2063.0 L1798.0,2050.1 L1800.0,2037.4 L1802.0,2024.7 L1804.0,2012.3 L1806.0,1999.9 L1808.0,1987.7 L1810.0,1975.6 L1812.0,1963.7 L1814.0,1951.9 L1816.0,1940.3 L1818.0,1928.8 L1820.0,1917.4 L1822.0,1906.1 L1824.0,1895.0 L1826.0,1884.1 L1828.0,1873.2 L1830.0,1862.5 L1832.0,1852.0 L1834.0,1841.6 L1836.0,1831.3 L1838.0,1821.1 L1840.0,1811.1 L1842.0,1801.3 L1844.0,1791.5 L1846.0,1782.0 L1848.0,1772.5 L1850.0,1763.2 L1852.0,1754.0 L1854.0,1745.0 L1856.0,1736.1 L1858.0,1727.3 L1860.0,1718.7 L1862.0,1710.2 L1864.0,1701.8 L1866.0,1693.6 L1868.0,1685.5 L1870.0,1677.6 L1872.0,1669.8 L1874.0,1662.1 L1876.0,1654.6 L1878.0,1647.2 L1880.0,1640.0 L1882.0,1632.9 L1884.0,1625.9 L1886.0,1619.0 L1888.0,1612.3 L1890.0,1605.8 L1892.0,1599.3 L1894.0,1593.1 L1896.0,1586.9 L1898.0,1580.9 L1900.0,1575.0 L1902.0,1569.3 L1904.0,1563.7 L1906.0,1558.2 L1908.0,1552.9 L1910.0,1547.7 L1912.0,1542.7 L1914.0,1537.7 L1916.0,1533.0 L1918.0,1528.3 L1920.0,1523.8 L1922.0,1519.5 L1924.0,1515.2 L1926.0,1511.2 L1928.0,1507.2 L1930.0,1503.4 L1932.0,1499.7 L1934.0,1496.2 L1936.0,1492.8 L1938.0,1489.5 L1940.0,1486.4 L1942.0,1483.4 L1944.0,1480.6 L1946.0,1477.9 L1948.0,1475.3 L1950.0,1472.9 L1952.0,1470.6 L1954.0,1468.4 L1956.0,1466.4 L1958.0,1464.5 L1960.0,1462.7 L1962.0,1461.1 L1964.0,1459.7 L1966.0,1458.3 L1968.0,1457.1 L1970.0,1456.1 L1972.0,1455.1 L1974.0,1454.4 L1976.0,1453.7 L1978.0,1453.2 L1980.0,1452.8 L1982.0,1452.6 L1984.0,1452.5 L1986.0,1452.5 L1988.0,1452.7 L1990.0,1453.0 L1992.0,1453.5 L1994.0,1454.1 L1996.0,1454.8 L1998.0,1455.7 L2000.0,1456.7 L2002.0,1457.8 L2004.0,1459.1 L2006.0,1460.5 L2008.0,1462.1 L2010.0,1463.8 L2012.0,1465.6 L2014.0,1467.6 L2016.0,1469.7 L2018.0,1471.9 L2020.0,1474.3 L2022.0,1476.8 L2024.0,1479.5 L2026.0,1482.3 L2028.0,1485.2 L2030.0,1488.3 L2032.0,1491.5 L2034.0,1494.8 L2036.0,1498.3 L2038.0,1501.9 L2040.0,1505.7 L2042.0,1509.6 L2044.0,1513.6 L2046.0,1517.8 L2048.0,1522.1 L2050.0,1526.5 L2052.0,1531.1 L2054.0,1535.8 L2056.0,1540.7 L2058.0,1545.7 L2060.0,1550.8 L2062.0,1556.1 L2064.0,1561.5 L2066.0,1567.0 L2068.0,1572.7 L2070.0,1578.5 L2072.0,1584.5 L2074.0,1590.6 L2076.0,1596.8 L2078.0,1603.2 L2080.0,1609.7 L2082.0,1616.3 L2084.0,1623.1 L2086.0,1630.0 L2088.0,1637.1 L2090.0,1644.3 L2092.0,1651.6 L2094.0,1659.1 L2096.0,1666.7 L2098.0,1674.5 L2100.0,1682.3 L2102.0,1690.4 L2104.0,1698.5 L2106.0,1706.8 L2108.0,1715.3 L2110.0,1723.8 L2112.0,1732.5 L2114.0,1741.4 L2116.0,1750.4 L2118.0,1759.5 L2120.0,1768.8 L2122.0,1778.2 L2124.0,1787.7 L2126.0,1797.4 L2128.0,1807.2 L2130.0,1817.1 L2132.0,1827.2 L2134.0,1837.4 L2136.0,1847.8 L2138.0,1858.3 L2140.0,1868.9 L2142.0,1879.7 L2144.0,1890.6 L2146.0,1901.7 L2148.0,1912.9 L2150.0,1924.2 L2152.0,1935.6 L2154.0,1947.2 L2156.0,1959.0 L2158.0,1970.9 L2160.0,1982.9 L2162.0,1995.0 L2164.0,2007.3 L2166.0,2019.7 L2168.0,2032.3 L2170.0,2045.0 L2172.0,2057.8 L2174.0,2070.8 L2176.0,2083.9 L2178.0,2097.2 L2180.0,2110.6 L2182.0,2124.1 L2184.0,2137.8 L2186.0,2151.6 L2188.0,2165.5 L2190.0,2179.6 L2192.0,2193.8 L2194.0,2208.1 L2196.0,2222.6 L2198.0,2237.2 L2200.0,2252.0" fill="none" stroke="#ff0000" stroke-width="6.6" stroke-linejoin="round" stroke-miterlimit="4" clip-path="url(#cd)"/>
<path d="M1550.0,2166.7 L1552.0,2164.9 L1554.0,2163.0 L1556.0,2161.2 L1558.0,2159.4 L1560.0,2157.6 L1562.0,2155.7 L1564.0,2153.9 L1566.0,2152.0 L1568.0,2150.1 L1570.0,2148.3 L1572.0,2146.4 L1574.0,2144.5 L1576.0,2142.6 L1578.0,2140.7 L1580.0,2138.7 L1582.0,2136.8 L1584.0,2134.9 L1586.0,2132.9 L1588.0,2130.9 L1590.0,2129.0 L1592.0,2127.0 L1594.0,2125.0 L1596.0,2123.0 L1598.0,2121.0 L1600.0,2119.0 L1602.0,2117.0 L1604.0,2114.9 L1606.0,2112.9 L1608.0,2110.8 L1610.0,2108.8 L1612.0,2106.7 L1614.0,2104.6 L1616.0,2102.5 L1618.0,2100.4 L1620.0,2098.3 L1622.0,2096.2 L1624.0,2094.0 L1626.0,2091.9 L1628.0,2089.7 L1630.0,2087.5 L1632.0,2085.3 L1634.0,2083.2 L1636.0,2080.9 L1638.0,2078.7 L1640.0,2076.5 L1642.0,2074.2 L1644.0,2072.0 L1646.0,2069.7 L1648.0,2067.4 L1650.0,2065.2 L1652.0,2062.9 L1654.0,2060.5 L1656.0,2058.2 L1658.0,2055.9 L1660.0,2053.5 L1662.0,2051.1 L1664.0,2048.8 L1666.0,2046.4 L1668.0,2043.9 L1670.0,2041.5 L1672.0,2039.1 L1674.0,2036.6 L1676.0,2034.2 L1678.0,2031.7 L1680.0,2029.2 L1682.0,2026.7 L1684.0,2024.2 L1686.0,2021.6 L1688.0,2019.1 L1690.0,2016.5 L1692.0,2013.9 L1694.0,2011.3 L1696.0,2008.7 L1698.0,2006.1 L1700.0,2003.4 L1702.0,2000.7 L1704.0,1998.1 L1706.0,1995.4 L1708.0,1992.6 L1710.0,1989.9 L1712.0,1987.2 L1714.0,1984.4 L1716.0,1981.6 L1718.0,1978.8 L1720.0,1976.0 L1722.0,1973.1 L1724.0,1970.3 L1726.0,1967.4 L1728.0,1964.5 L1730.0,1961.6 L1732.0,1958.6 L1734.0,1955.7 L1736.0,1952.7 L1738.0,1949.7 L1740.0,1946.7 L1742.0,1943.6 L1744.0,1940.6 L1746.0,1937.5 L1748.0,1934.4 L1750.0,1931.3 L1752.0,1928.1 L1754.0,1924.9 L1756.0,1921.8 L1758.0,1918.5 L1760.0,1915.3 L1762.0,1912.0 L1764.0,1908.7 L1766.0,1905.4 L1768.0,1902.1 L1770.0,1898.7 L1772.0,1895.3 L1774.0,1891.9 L1776.0,1888.5 L1778.0,1885.0 L1780.0,1881.5 L1782.0,1878.0 L1784.0,1874.5 L1786.0,1870.9 L1788.0,1867.3 L1790.0,1863.7 L1792.0,1860.0 L1794.0,1856.3 L1796.0,1852.6 L1798.0,1848.9 L1800.0,1845.1 L1802.0,1841.3 L1804.0,1837.5 L1806.0,1833.6 L1808.0,1829.7 L1810.0,1825.8 L1812.0,1821.8 L1814.0,1817.8 L1816.0,1813.8 L1818.0,1809.7 L1820.0,1805.6 L1822.0,1801.5 L1824.0,1797.3 L1826.0,1793.1 L1828.0,1788.9 L1830.0,1784.6 L1832.0,1780.3 L1834.0,1776.0 L1836.0,1771.6 L1838.0,1767.2 L1840.0,1762.7 L1842.0,1758.2 L1844.0,1753.7 L1846.0,1749.1 L1848.0,1744.5 L1850.0,1739.9 L1852.0,1735.2 L1854.0,1730.5 L1856.0,1725.7 L1858.0,1720.9 L1860.0,1716.0 L1862.0,1711.2 L1864.0,1706.2 L1866.0,1701.3 L1868.0,1696.3 L1870.0,1691.2 L1872.0,1686.2 L1874.0,1681.1 L1876.0,1675.9 L1878.0,1670.7 L1880.0,1665.5 L1882.0,1660.2 L1884.0,1654.9 L1886.0,1649.6 L1888.0,1644.2 L1890.0,1638.8 L1892.0,1633.4 L1894.0,1627.9 L1896.0,1622.4 L1898.0,1616.9 L1900.0,1611.3 L1902.0,1605.8 L1904.0,1600.2 L1906.0,1594.6 L1908.0,1589.0 L1910.0,1583.3 L1912.0,1577.7 L1914.0,1572.1 L1916.0,1566.5 L1918.0,1560.8 L1920.0,1555.2 L1922.0,1549.6 L1924.0,1544.0 L1926.0,1538.5 L1928.0,1533.0 L1930.0,1527.5 L1932.0,1522.1 L1934.0,1516.8 L1936.0,1511.5 L1938.0,1506.3 L1940.0,1501.2 L1942.0,1496.2 L1944.0,1491.3 L1946.0,1486.6 L1948.0,1481.9 L1950.0,1477.4 L1952.0,1473.1 L1954.0,1468.9 L1956.0,1465.0 L1958.0,1461.2 L1960.0,1457.6 L1962.0,1454.3 L1964.0,1451.2 L1966.0,1448.3 L1968.0,1445.8 L1970.0,1443.4 L1972.0,1441.4 L1974.0,1439.6 L1976.0,1438.2 L1978.0,1437.0 L1980.0,1436.2 L1982.0,1435.6 L1984.0,1435.4 L1986.0,1435.5 L1988.0,1435.9 L1990.0,1436.6 L1992.0,1437.7 L1994.0,1439.0 L1996.0,1440.6 L1998.0,1442.6 L2000.0,1444.8 L2002.0,1447.3 L2004.0,1450.0 L2006.0,1453.0 L2008.0,1456.3 L2010.0,1459.8 L2012.0,1463.4 L2014.0,1467.3 L2016.0,1471.4 L2018.0,1475.7 L2020.0,1480.1 L2022.0,1484.7 L2024.0,1489.4 L2026.0,1494.2 L2028.0,1499.2 L2030.0,1504.3 L2032.0,1509.4 L2034.0,1514.7 L2036.0,1520.0 L2038.0,1525.4 L2040.0,1530.8 L2042.0,1536.3 L2044.0,1541.8 L2046.0,1547.4 L2048.0,1553.0 L2050.0,1558.6 L2052.0,1564.2 L2054.0,1569.8 L2056.0,1575.5 L2058.0,1581.1 L2060.0,1586.7 L2062.0,1592.3 L2064.0,1598.0 L2066.0,1603.5 L2068.0,1609.1 L2070.0,1614.7 L2072.0,1620.2 L2074.0,1625.7 L2076.0,1631.2 L2078.0,1636.6 L2080.0,1642.0 L2082.0,1647.4 L2084.0,1652.8 L2086.0,1658.1 L2088.0,1663.4 L2090.0,1668.6 L2092.0,1673.8 L2094.0,1679.0 L2096.0,1684.1 L2098.0,1689.2 L2100.0,1694.3 L2102.0,1699.3 L2104.0,1704.3 L2106.0,1709.2 L2108.0,1714.1 L2110.0,1719.0 L2112.0,1723.8 L2114.0,1728.6 L2116.0,1733.3 L2118.0,1738.0 L2120.0,1742.7 L2122.0,1747.3 L2124.0,1751.9 L2126.0,1756.4 L2128.0,1760.9 L2130.0,1765.4 L2132.0,1769.8 L2134.0,1774.2 L2136.0,1778.6 L2138.0,1782.9 L2140.0,1787.2 L2142.0,1791.4 L2144.0,1795.6 L2146.0,1799.8 L2148.0,1804.0 L2150.0,1808.1 L2152.0,1812.1 L2154.0,1816.2 L2156.0,1820.2 L2158.0,1824.2 L2160.0,1828.1 L2162.0,1832.0 L2164.0,1835.9 L2166.0,1839.8 L2168.0,1843.6 L2170.0,1847.4 L2172.0,1851.1 L2174.0,1854.8 L2176.0,1858.5 L2178.0,1862.2 L2180.0,1865.9 L2182.0,1869.5 L2184.0,1873.1 L2186.0,1876.6 L2188.0,1880.1 L2190.0,1883.6 L2192.0,1887.1 L2194.0,1890.6 L2196.0,1894.0 L2198.0,1897.4 L2200.0,1900.8 L2202.0,1904.1 L2204.0,1907.4 L2206.0,1910.7 L2208.0,1914.0 L2210.0,1917.2 L2212.0,1920.5 L2214.0,1923.7 L2216.0,1926.9 L2218.0,1930.0 L2220.0,1933.1 L2222.0,1936.3 L2224.0,1939.3 L2226.0,1942.4 L2228.0,1945.5 L2230.0,1948.5 L2232.0,1951.5 L2234.0,1954.5 L2236.0,1957.5 L2238.0,1960.4 L2240.0,1963.3 L2242.0,1966.2 L2244.0,1969.1 L2246.0,1972.0 L2248.0,1974.8 L2250.0,1977.7 L2252.0,1980.5 L2254.0,1983.3 L2256.0,1986.1 L2258.0,1988.8 L2260.0,1991.6 L2262.0,1994.3 L2264.0,1997.0 L2266.0,1999.7 L2268.0,2002.3 L2270.0,2005.0 L2272.0,2007.6 L2274.0,2010.3 L2276.0,2012.9 L2278.0,2015.5 L2280.0,2018.0 L2282.0,2020.6 L2284.0,2023.1 L2286.0,2025.7 L2288.0,2028.2 L2290.0,2030.7 L2292.0,2033.2 L2294.0,2035.7 L2296.0,2038.1 L2298.0,2040.6 L2300.0,2043.0 L2302.0,2045.4 L2304.0,2047.8 L2306.0,2050.2 L2308.0,2052.6 L2310.0,2054.9 L2312.0,2057.3 L2314.0,2059.6 L2316.0,2061.9 L2318.0,2064.2 L2320.0,2066.5 L2322.0,2068.8 L2324.0,2071.1 L2326.0,2073.3 L2328.0,2075.6 L2330.0,2077.8 L2332.0,2080.1 L2334.0,2082.3 L2336.0,2084.5 L2338.0,2086.7 L2340.0,2088.8 L2342.0,2091.0 L2344.0,2093.2 L2346.0,2095.3 L2348.0,2097.4 L2350.0,2099.6 L2352.0,2101.7 L2354.0,2103.8 L2356.0,2105.9 L2358.0,2107.9 L2360.0,2110.0 L2362.0,2112.1 L2364.0,2114.1 L2366.0,2116.2 L2368.0,2118.2 L2370.0,2120.2 L2372.0,2122.2 L2374.0,2124.2 L2376.0,2126.2 L2378.0,2128.2 L2380.0,2130.2 L2382.0,2132.1 L2384.0,2134.1 L2386.0,2136.0 L2388.0,2138.0 L2390.0,2139.9 L2392.0,2141.8 L2394.0,2143.7 L2396.0,2145.6 L2398.0,2147.5 L2400.0,2149.4 L2402.0,2151.3 L2404.0,2153.1 L2406.0,2155.0 L2408.0,2156.8 L2410.0,2158.7 L2412.0,2160.5 L2414.0,2162.3 L2416.0,2164.1 L2418.0,2165.9 L2420.0,2167.7" fill="none" stroke="#0000ff" stroke-width="6.6" stroke-linejoin="round" stroke-miterlimit="4" clip-path="url(#cd)"/>
<text transform="translate(86.6,111.5) scale(1.085,1)" font-size="94" text-anchor="middle" fill="#000" >a)</text>
<text transform="translate(1301.6,111.5) scale(1.085,1)" font-size="94" text-anchor="middle" fill="#000" >b)</text>
<text transform="translate(86.6,1320.5) scale(1.085,1)" font-size="94" text-anchor="middle" fill="#000" >c)</text>
<text transform="translate(1300.2,1320.5) scale(1.085,1)" font-size="94" text-anchor="middle" fill="#000" >d)</text>
<text transform="translate(299.5,952.7) scale(0.935,1)" font-size="84.5" text-anchor="end" fill="#000" >−6</text>
<text transform="translate(299.5,811.1) scale(0.935,1)" font-size="84.5" text-anchor="end" fill="#000" >−4</text>
<text transform="translate(299.5,669.6) scale(0.935,1)" font-size="84.5" text-anchor="end" fill="#000" >−2</text>
<text transform="translate(299.5,528.0) scale(0.935,1)" font-size="84.5" text-anchor="end" fill="#000" >0</text>
<text transform="translate(299.5,386.4) scale(0.935,1)" font-size="84.5" text-anchor="end" fill="#000" >2</text>
<text transform="translate(299.5,244.9) scale(0.935,1)" font-size="84.5" text-anchor="end" fill="#000" >4</text>
<text transform="translate(299.5,103.3) scale(0.935,1)" font-size="84.5" text-anchor="end" fill="#000" >6</text>
<text transform="translate(490.0,1066.8) scale(0.965,1)" font-size="84.5" text-anchor="middle" fill="#000" >3000</text>
<text transform="translate(775.5,1066.8) scale(0.965,1)" font-size="84.5" text-anchor="middle" fill="#000" >6000</text>
<text transform="translate(1061.0,1066.8) scale(0.965,1)" font-size="84.5" text-anchor="middle" fill="#000" >9000</text>
<text x="778.0" y="1184.8" font-size="100" text-anchor="middle" fill="#000" >t (ps)</text>
<text transform="translate(129.3,500.4) rotate(-90)" font-size="100" text-anchor="middle">z(0,0) (Å)</text>
<text transform="translate(299.5,2175.1) scale(0.935,1)" font-size="84.5" text-anchor="end" fill="#000" >−10</text>
<text transform="translate(299.5,2087.4) scale(0.935,1)" font-size="84.5" text-anchor="end" fill="#000" >−8</text>
<text transform="translate(299.5,1999.7) scale(0.935,1)" font-size="84.5" text-anchor="end" fill="#000" >−6</text>
<text transform="translate(299.5,1912.0) scale(0.935,1)" font-size="84.5" text-anchor="end" fill="#000" >−4</text>
<text transform="translate(299.5,1824.3) scale(0.935,1)" font-size="84.5" text-anchor="end" fill="#000" >−2</text>
<text transform="translate(299.5,1736.6) scale(0.935,1)" font-size="84.5" text-anchor="end" fill="#000" >0</text>
<text transform="translate(299.5,1648.9) scale(0.935,1)" font-size="84.5" text-anchor="end" fill="#000" >2</text>
<text transform="translate(299.5,1561.2) scale(0.935,1)" font-size="84.5" text-anchor="end" fill="#000" >4</text>
<text transform="translate(299.5,1473.5) scale(0.935,1)" font-size="84.5" text-anchor="end" fill="#000" >6</text>
<text transform="translate(299.5,1385.8) scale(0.935,1)" font-size="84.5" text-anchor="end" fill="#000" >8</text>
<text transform="translate(299.5,1298.1) scale(0.935,1)" font-size="84.5" text-anchor="end" fill="#000" >10</text>
<text transform="translate(490.0,2275.2) scale(0.965,1)" font-size="84.5" text-anchor="middle" fill="#000" >3000</text>
<text transform="translate(775.5,2275.2) scale(0.965,1)" font-size="84.5" text-anchor="middle" fill="#000" >6000</text>
<text transform="translate(1061.0,2275.2) scale(0.965,1)" font-size="84.5" text-anchor="middle" fill="#000" >9000</text>
<text x="778.0" y="2393.2" font-size="100" text-anchor="middle" fill="#000" >t (ps)</text>
<text transform="translate(129.3,1708.9) rotate(-90)" font-size="100" text-anchor="middle">z(0,0) (Å)</text>
<text x="413.0" y="143.0" font-size="87.5" fill="#000" textLength="300.0" lengthAdjust="spacingAndGlyphs">Ripple 1</text>
<text x="907.6" y="143.0" font-size="87.5" fill="#000" textLength="260.0" lengthAdjust="spacingAndGlyphs">2000 K</text>
<text x="413.8" y="910.1" font-size="87.5" fill="#008000" textLength="159.5" lengthAdjust="spacingAndGlyphs">Raw</text>
<text x="797.7" y="910.1" font-size="87.5" fill="#800080" textLength="360.5" lengthAdjust="spacingAndGlyphs">Smoothed</text>
<text x="413.0" y="1351.7" font-size="87.5" fill="#000" textLength="346.5" lengthAdjust="spacingAndGlyphs">Ripple 10</text>
<text x="907.6" y="1351.7" font-size="87.5" fill="#000" textLength="260.0" lengthAdjust="spacingAndGlyphs">2000 K</text>
<text x="413.8" y="2118.5" font-size="87.5" fill="#008000" textLength="159.5" lengthAdjust="spacingAndGlyphs">Raw</text>
<text x="797.7" y="2118.5" font-size="87.5" fill="#800080" textLength="360.5" lengthAdjust="spacingAndGlyphs">Smoothed</text>
<text transform="translate(1506.8,108.2) scale(0.95,1)" font-size="59" text-anchor="end" fill="#000" >2</text>
<text transform="translate(1461.3,329.2) scale(0.95,1)" font-size="84.5" text-anchor="end" fill="#000" >10</text>
<text transform="translate(1519.3,283.9) scale(0.95,1)" font-size="58" text-anchor="end" fill="#000" >−2</text>
<text transform="translate(1506.8,501.2) scale(0.95,1)" font-size="59" text-anchor="end" fill="#000" >5</text>
<text transform="translate(1506.8,759.6) scale(0.95,1)" font-size="59" text-anchor="end" fill="#000" >2</text>
<text transform="translate(1461.3,975.6) scale(0.95,1)" font-size="84.5" text-anchor="end" fill="#000" >10</text>
<text transform="translate(1519.3,930.3) scale(0.95,1)" font-size="58" text-anchor="end" fill="#000" >−3</text>
<text transform="translate(1576.8,1041.6) scale(0.94,1)" font-size="84" text-anchor="middle" fill="#000" >−0.2</text>
<text transform="translate(1776.4,1041.6) scale(0.94,1)" font-size="84" text-anchor="middle" fill="#000" >−0.1</text>
<text transform="translate(1983.7,1041.6) scale(0.94,1)" font-size="84" text-anchor="middle" fill="#000" >0.0</text>
<text transform="translate(2184.0,1041.6) scale(0.94,1)" font-size="84" text-anchor="middle" fill="#000" >0.1</text>
<text transform="translate(2379.7,1041.6) scale(0.94,1)" font-size="84" text-anchor="middle" fill="#000" >0.2</text>
<text x="1988.6" y="1185.1" font-size="100" text-anchor="middle">v<tspan font-size="66" dy="18.5">z</tspan><tspan dy="-18.5">(0,0) (Å/ps)</tspan></text>
<text transform="translate(1320.1,490.8) rotate(-90)" font-size="100" text-anchor="middle">Probability</text>
<text transform="translate(1506.8,1376.2) scale(0.95,1)" font-size="59" text-anchor="end" fill="#000" >5</text>
<text transform="translate(1506.8,1560.3) scale(0.95,1)" font-size="59" text-anchor="end" fill="#000" >2</text>
<text transform="translate(1461.3,1721.5) scale(0.95,1)" font-size="84.5" text-anchor="end" fill="#000" >10</text>
<text transform="translate(1519.3,1677.7) scale(0.95,1)" font-size="58" text-anchor="end" fill="#000" >−2</text>
<text transform="translate(1506.8,1838.7) scale(0.95,1)" font-size="59" text-anchor="end" fill="#000" >5</text>
<text transform="translate(1506.8,2022.8) scale(0.95,1)" font-size="59" text-anchor="end" fill="#000" >2</text>
<text transform="translate(1461.3,2183.0) scale(0.95,1)" font-size="84.5" text-anchor="end" fill="#000" >10</text>
<text transform="translate(1519.3,2137.7) scale(0.95,1)" font-size="58" text-anchor="end" fill="#000" >−3</text>
<text transform="translate(1632.0,2250.0) scale(0.94,1)" font-size="84" text-anchor="middle" fill="#000" >−0.1</text>
<text transform="translate(1803.9,2250.0) scale(0.94,1)" font-size="84" text-anchor="middle" fill="#000" >−0.05</text>
<text transform="translate(1983.7,2250.0) scale(0.94,1)" font-size="84" text-anchor="middle" fill="#000" >0.0</text>
<text transform="translate(2158.4,2250.0) scale(0.94,1)" font-size="84" text-anchor="middle" fill="#000" >0.05</text>
<text transform="translate(2328.4,2250.0) scale(0.94,1)" font-size="84" text-anchor="middle" fill="#000" >0.1</text>
<text x="1988.6" y="2393.5" font-size="100" text-anchor="middle">v<tspan font-size="66" dy="18.5">z</tspan><tspan dy="-18.5">(0,0) (Å/ps)</tspan></text>
<text transform="translate(1320.1,1699.3) rotate(-90)" font-size="100" text-anchor="middle">Probability</text>
<text x="1586.6" y="143.4" font-size="88" text-anchor="start" fill="#0000ff" >Cauchy</text>
<text x="2381.6" y="143.4" font-size="88" text-anchor="end" fill="#ff0000" >Gaussian</text>
<text x="1561.2" y="251.4" font-size="88" text-anchor="start" fill="#0000ff" >R</text>
<text x="1622.7" y="201.9" font-size="59.5" text-anchor="start" fill="#0000ff" >2</text>
<text x="1652.2" y="251.4" font-size="88" text-anchor="start" fill="#0000ff" >=</text>
<text x="1709.8" y="251.4" font-size="88.5" text-anchor="start" fill="#0000ff" >0.970</text>
<text x="2070.4" y="251.4" font-size="88" text-anchor="start" fill="#ff0000" >R</text>
<text x="2131.9" y="201.9" font-size="59.5" text-anchor="start" fill="#ff0000" >2</text>
<text x="2148.6" y="251.4" font-size="88" text-anchor="start" fill="#ff0000" >=</text>
<text x="2202.7" y="251.4" font-size="90" text-anchor="start" fill="#ff0000" >0.980</text>
<text x="1586.6" y="1352.1" font-size="88" text-anchor="start" fill="#0000ff" >Cauchy</text>
<text x="2381.6" y="1352.1" font-size="88" text-anchor="end" fill="#ff0000" >Gaussian</text>
<text x="1585.6" y="1460.1" font-size="88" text-anchor="start" fill="#0000ff" >R</text>
<text x="1647.2" y="1410.6" font-size="59.5" text-anchor="start" fill="#0000ff" >2</text>
<text x="1676.7" y="1460.1" font-size="88" text-anchor="start" fill="#0000ff" >=</text>
<text x="1734.2" y="1460.1" font-size="89.5" text-anchor="start" fill="#0000ff" >0.988</text>
<text x="2035.0" y="1460.1" font-size="88" text-anchor="start" fill="#ff0000" >R</text>
<text x="2097.0" y="1410.6" font-size="59.5" text-anchor="start" fill="#ff0000" >2</text>
<text x="2126.5" y="1460.1" font-size="88" text-anchor="start" fill="#ff0000" >=</text>
<text x="2191.0" y="1460.1" font-size="89.5" text-anchor="start" fill="#ff0000" >0.975</text>
</svg></body></html>
